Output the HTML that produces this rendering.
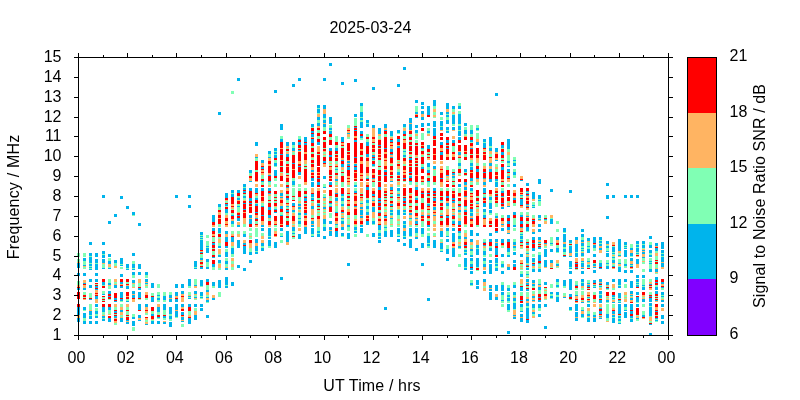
<!DOCTYPE html><html><head><meta charset="utf-8"><style>html,body{margin:0;padding:0;background:#fff;width:800px;height:400px;overflow:hidden}svg{display:block}text{font-family:"Liberation Sans",Arial,sans-serif;font-size:16px;fill:#000}</style></head><body><svg width="800" height="400" viewBox="0 0 800 400" shape-rendering="crispEdges"><rect width="800" height="400" fill="#fff"/><g><path fill="#80ffb4" d="M77 253h3v4h-3zM77 259h3v3h-3zM77 281h3v4h-3zM83 253h3v4h-3zM83 261h3v4h-3zM83 267h3v2h-3zM83 292h3v3h-3zM83 297h3v1h-3zM83 310h3v1h-3zM83 318h3v3h-3zM89 256h3v1h-3zM89 263h3v1h-3zM89 266h3v1h-3zM89 268h3v1h-3zM89 293h3v5h-3zM89 304h3v6h-3zM89 315h3v1h-3zM95 263h3v1h-3zM95 284h3v1h-3zM95 308h3v3h-3zM95 314h3v2h-3zM102 254h3v1h-3zM102 264h3v4h-3zM102 285h3v1h-3zM102 291h3v3h-3zM102 297h3v2h-3zM102 300h3v1h-3zM102 312h3v3h-3zM102 318h3v1h-3zM108 258h3v3h-3zM108 267h3v1h-3zM108 279h3v4h-3zM108 286h3v3h-3zM108 299h3v1h-3zM108 310h3v4h-3zM114 263h3v3h-3zM114 282h3v2h-3zM114 307h3v3h-3zM114 314h3v1h-3zM114 323h3v2h-3zM120 264h3v1h-3zM120 267h3v2h-3zM120 301h3v1h-3zM120 304h3v3h-3zM120 315h3v2h-3zM126 268h3v1h-3zM126 282h3v2h-3zM126 299h3v2h-3zM126 307h3v3h-3zM126 311h3v4h-3zM126 316h3v1h-3zM132 261h3v3h-3zM132 268h3v1h-3zM132 275h3v3h-3zM132 284h3v1h-3zM132 285h3v2h-3zM132 314h3v3h-3zM132 327h3v4h-3zM132 215h3v1h-3zM138 283h3v2h-3zM138 285h3v2h-3zM138 299h3v1h-3zM145 275h3v3h-3zM145 284h3v1h-3zM145 286h3v2h-3zM145 298h3v2h-3zM145 313h3v2h-3zM145 320h3v2h-3zM151 293h3v3h-3zM151 311h3v3h-3zM151 320h3v1h-3zM157 284h3v1h-3zM157 285h3v3h-3zM157 292h3v3h-3zM157 296h3v2h-3zM157 300h3v2h-3zM157 312h3v3h-3zM157 318h3v1h-3zM163 292h3v4h-3zM163 300h3v2h-3zM163 310h3v5h-3zM163 318h3v2h-3zM169 292h3v3h-3zM169 314h3v2h-3zM169 319h3v2h-3zM175 317h3v1h-3zM181 324h3v3h-3zM188 286h3v2h-3zM188 292h3v3h-3zM188 297h3v1h-3zM188 311h3v4h-3zM194 279h3v6h-3zM194 295h3v2h-3zM194 299h3v1h-3zM194 308h3v3h-3zM194 267h3v1h-3zM200 286h3v1h-3zM200 296h3v1h-3zM200 298h3v1h-3zM200 235h3v1h-3zM200 237h3v1h-3zM200 239h3v1h-3zM200 254h3v4h-3zM200 261h3v1h-3zM200 265h3v1h-3zM206 285h3v5h-3zM206 295h3v2h-3zM206 302h3v1h-3zM206 235h3v3h-3zM206 241h3v5h-3zM206 247h3v1h-3zM206 262h3v5h-3zM212 286h3v2h-3zM212 237h3v5h-3zM212 248h3v1h-3zM212 251h3v4h-3zM212 267h3v3h-3zM218 292h3v5h-3zM218 207h3v3h-3zM218 224h3v3h-3zM218 233h3v1h-3zM218 237h3v2h-3zM218 243h3v3h-3zM218 254h3v1h-3zM218 263h3v1h-3zM218 268h3v2h-3zM225 285h3v1h-3zM225 201h3v2h-3zM225 206h3v1h-3zM225 213h3v2h-3zM225 249h3v3h-3zM225 258h3v3h-3zM225 264h3v3h-3zM231 91h3v3h-3zM231 193h3v1h-3zM231 209h3v1h-3zM231 213h3v2h-3zM231 224h3v3h-3zM231 231h3v3h-3zM231 246h3v2h-3zM231 254h3v3h-3zM231 261h3v3h-3zM231 267h3v3h-3zM237 196h3v2h-3zM237 204h3v2h-3zM237 207h3v5h-3zM237 231h3v3h-3zM243 187h3v1h-3zM243 194h3v1h-3zM243 195h3v1h-3zM243 198h3v2h-3zM243 224h3v3h-3zM243 231h3v3h-3zM249 173h3v3h-3zM249 228h3v3h-3zM249 233h3v3h-3zM249 237h3v2h-3zM249 248h3v4h-3zM255 158h3v3h-3zM255 170h3v2h-3zM255 196h3v2h-3zM255 203h3v1h-3zM255 221h3v3h-3zM255 228h3v9h-3zM255 251h3v1h-3zM261 175h3v4h-3zM261 182h3v3h-3zM261 203h3v3h-3zM261 233h3v3h-3zM261 246h3v2h-3zM268 154h3v3h-3zM268 182h3v3h-3zM268 196h3v4h-3zM268 201h3v2h-3zM268 219h3v1h-3zM268 220h3v1h-3zM268 236h3v1h-3zM268 246h3v2h-3zM274 151h3v1h-3zM274 154h3v1h-3zM274 160h3v3h-3zM274 166h3v1h-3zM274 178h3v3h-3zM274 184h3v3h-3zM274 194h3v3h-3zM274 198h3v2h-3zM274 201h3v2h-3zM274 207h3v2h-3zM274 225h3v2h-3zM274 228h3v3h-3zM280 136h3v3h-3zM280 166h3v1h-3zM280 172h3v1h-3zM280 212h3v3h-3zM280 233h3v3h-3zM280 240h3v3h-3zM286 148h3v1h-3zM286 151h3v1h-3zM286 161h3v3h-3zM286 173h3v2h-3zM286 182h3v3h-3zM286 194h3v2h-3zM286 200h3v3h-3zM286 207h3v2h-3zM286 215h3v1h-3zM286 218h3v3h-3zM292 145h3v3h-3zM292 152h3v3h-3zM292 178h3v3h-3zM292 185h3v2h-3zM292 188h3v8h-3zM292 197h3v3h-3zM292 212h3v1h-3zM292 224h3v1h-3zM292 231h3v2h-3zM292 234h3v2h-3zM292 237h3v2h-3zM298 136h3v3h-3zM298 148h3v1h-3zM298 184h3v3h-3zM298 188h3v3h-3zM298 197h3v3h-3zM298 200h3v1h-3zM298 203h3v1h-3zM298 209h3v1h-3zM298 212h3v1h-3zM298 215h3v3h-3zM298 219h3v2h-3zM298 224h3v1h-3zM298 225h3v2h-3zM304 164h3v2h-3zM304 167h3v2h-3zM304 188h3v3h-3zM304 194h3v2h-3zM304 203h3v1h-3zM311 127h3v1h-3zM311 146h3v2h-3zM311 152h3v2h-3zM311 158h3v2h-3zM311 163h3v1h-3zM311 197h3v1h-3zM311 201h3v2h-3zM311 215h3v3h-3zM311 234h3v2h-3zM317 108h3v1h-3zM317 113h3v1h-3zM317 120h3v3h-3zM317 130h3v3h-3zM317 136h3v3h-3zM317 154h3v1h-3zM317 198h3v2h-3zM317 203h3v1h-3zM317 207h3v2h-3zM317 210h3v2h-3zM317 213h3v3h-3zM317 227h3v4h-3zM317 233h3v1h-3zM323 118h3v2h-3zM323 127h3v4h-3zM323 140h3v2h-3zM323 148h3v1h-3zM323 152h3v2h-3zM323 155h3v2h-3zM323 184h3v3h-3zM323 194h3v3h-3zM323 201h3v2h-3zM323 204h3v2h-3zM323 210h3v2h-3zM323 213h3v2h-3zM323 224h3v1h-3zM323 225h3v2h-3zM329 125h3v3h-3zM329 130h3v1h-3zM329 137h3v3h-3zM329 161h3v2h-3zM329 164h3v2h-3zM329 175h3v1h-3zM329 196h3v1h-3zM329 198h3v2h-3zM329 200h3v1h-3zM329 204h3v2h-3zM329 213h3v5h-3zM335 136h3v6h-3zM335 145h3v3h-3zM335 154h3v1h-3zM335 161h3v3h-3zM335 167h3v2h-3zM335 170h3v3h-3zM335 175h3v1h-3zM335 182h3v3h-3zM335 197h3v1h-3zM335 203h3v1h-3zM335 206h3v6h-3zM335 225h3v3h-3zM341 146h3v2h-3zM341 170h3v2h-3zM341 173h3v2h-3zM341 175h3v1h-3zM341 182h3v5h-3zM341 196h3v2h-3zM341 201h3v3h-3zM341 206h3v1h-3zM341 215h3v1h-3zM341 219h3v2h-3zM341 236h3v1h-3zM347 125h3v3h-3zM347 137h3v2h-3zM347 151h3v1h-3zM347 185h3v2h-3zM347 194h3v2h-3zM347 198h3v2h-3zM347 206h3v3h-3zM347 215h3v3h-3zM347 219h3v5h-3zM347 227h3v4h-3zM354 118h3v8h-3zM354 182h3v3h-3zM354 188h3v3h-3zM354 215h3v4h-3zM354 225h3v2h-3zM354 230h3v1h-3zM354 234h3v3h-3zM360 106h3v6h-3zM360 117h3v1h-3zM360 120h3v2h-3zM360 138h3v2h-3zM360 155h3v2h-3zM360 193h3v1h-3zM360 196h3v1h-3zM360 201h3v2h-3zM366 123h3v1h-3zM366 134h3v3h-3zM366 139h3v3h-3zM366 176h3v2h-3zM366 198h3v2h-3zM366 203h3v3h-3zM366 209h3v3h-3zM366 234h3v3h-3zM372 143h3v2h-3zM372 152h3v2h-3zM372 160h3v1h-3zM372 166h3v1h-3zM372 182h3v5h-3zM372 198h3v2h-3zM372 218h3v3h-3zM372 224h3v1h-3zM378 136h3v3h-3zM378 148h3v1h-3zM378 160h3v6h-3zM378 167h3v3h-3zM378 175h3v1h-3zM378 181h3v1h-3zM378 210h3v2h-3zM378 216h3v2h-3zM378 230h3v3h-3zM378 236h3v1h-3zM384 134h3v3h-3zM384 193h3v1h-3zM384 196h3v1h-3zM384 198h3v2h-3zM384 203h3v1h-3zM384 207h3v2h-3zM384 210h3v2h-3zM384 225h3v2h-3zM384 228h3v3h-3zM390 136h3v1h-3zM390 164h3v2h-3zM390 175h3v1h-3zM390 178h3v1h-3zM390 194h3v2h-3zM390 198h3v2h-3zM390 200h3v1h-3zM390 207h3v2h-3zM390 212h3v1h-3zM390 215h3v1h-3zM390 219h3v5h-3zM390 225h3v2h-3zM397 133h3v1h-3zM397 160h3v1h-3zM397 163h3v1h-3zM397 169h3v3h-3zM397 178h3v1h-3zM397 181h3v1h-3zM397 185h3v2h-3zM397 191h3v2h-3zM397 196h3v1h-3zM397 200h3v1h-3zM397 209h3v1h-3zM397 215h3v4h-3zM397 221h3v3h-3zM397 225h3v2h-3zM397 234h3v2h-3zM403 127h3v1h-3zM403 136h3v3h-3zM403 149h3v1h-3zM403 150h3v1h-3zM403 152h3v3h-3zM403 157h3v1h-3zM403 164h3v2h-3zM403 181h3v1h-3zM403 196h3v1h-3zM403 206h3v3h-3zM403 212h3v1h-3zM403 224h3v1h-3zM403 236h3v1h-3zM409 134h3v3h-3zM409 140h3v2h-3zM409 145h3v1h-3zM409 151h3v1h-3zM409 155h3v2h-3zM409 166h3v1h-3zM409 175h3v1h-3zM409 182h3v3h-3zM409 193h3v1h-3zM409 203h3v3h-3zM409 209h3v1h-3zM409 219h3v2h-3zM409 225h3v2h-3zM409 236h3v1h-3zM415 106h3v6h-3zM415 133h3v1h-3zM415 136h3v3h-3zM415 140h3v3h-3zM415 145h3v1h-3zM415 157h3v1h-3zM415 163h3v1h-3zM415 166h3v1h-3zM415 182h3v3h-3zM415 196h3v2h-3zM415 203h3v3h-3zM415 210h3v3h-3zM415 225h3v2h-3zM415 233h3v3h-3zM421 133h3v7h-3zM421 149h3v1h-3zM421 150h3v1h-3zM421 155h3v2h-3zM421 164h3v3h-3zM421 182h3v3h-3zM421 198h3v2h-3zM421 200h3v3h-3zM421 210h3v2h-3zM421 221h3v4h-3zM421 225h3v2h-3zM421 234h3v3h-3zM427 128h3v3h-3zM427 133h3v1h-3zM427 152h3v2h-3zM427 155h3v2h-3zM427 167h3v3h-3zM427 176h3v2h-3zM427 182h3v5h-3zM427 196h3v2h-3zM427 203h3v1h-3zM427 210h3v3h-3zM427 219h3v2h-3zM427 228h3v3h-3zM427 233h3v3h-3zM427 243h3v1h-3zM427 246h3v2h-3zM433 106h3v3h-3zM433 112h3v3h-3zM433 117h3v1h-3zM433 139h3v1h-3zM433 170h3v5h-3zM433 175h3v1h-3zM433 182h3v3h-3zM433 196h3v1h-3zM433 221h3v3h-3zM433 233h3v3h-3zM440 117h3v3h-3zM440 126h3v1h-3zM440 188h3v3h-3zM440 196h3v1h-3zM440 201h3v2h-3zM440 206h3v1h-3zM440 210h3v3h-3zM440 218h3v3h-3zM440 239h3v3h-3zM440 249h3v2h-3zM446 114h3v1h-3zM446 117h3v3h-3zM446 130h3v1h-3zM446 145h3v1h-3zM446 166h3v4h-3zM446 178h3v1h-3zM446 188h3v3h-3zM446 206h3v3h-3zM446 231h3v5h-3zM446 245h3v4h-3zM452 109h3v3h-3zM452 114h3v1h-3zM452 124h3v1h-3zM452 125h3v1h-3zM452 146h3v4h-3zM452 150h3v2h-3zM452 169h3v3h-3zM452 178h3v3h-3zM452 182h3v3h-3zM452 188h3v3h-3zM452 207h3v2h-3zM452 212h3v1h-3zM452 219h3v2h-3zM458 103h3v3h-3zM458 111h3v3h-3zM458 124h3v1h-3zM458 125h3v1h-3zM458 130h3v1h-3zM458 158h3v5h-3zM458 166h3v3h-3zM458 173h3v2h-3zM458 188h3v5h-3zM458 201h3v3h-3zM458 212h3v1h-3zM458 215h3v3h-3zM458 233h3v3h-3zM458 239h3v3h-3zM458 244h3v1h-3zM458 248h3v1h-3zM458 254h3v3h-3zM458 264h3v3h-3zM464 127h3v3h-3zM464 134h3v2h-3zM464 154h3v3h-3zM464 172h3v1h-3zM464 175h3v1h-3zM464 207h3v2h-3zM464 215h3v1h-3zM464 225h3v2h-3zM464 230h3v3h-3zM464 248h3v2h-3zM464 252h3v1h-3zM464 267h3v1h-3zM470 125h3v5h-3zM470 134h3v3h-3zM470 142h3v1h-3zM470 154h3v1h-3zM470 160h3v3h-3zM470 166h3v1h-3zM470 182h3v3h-3zM470 191h3v2h-3zM470 203h3v1h-3zM470 212h3v1h-3zM470 245h3v3h-3zM470 251h3v4h-3zM470 261h3v3h-3zM470 280h3v3h-3zM470 285h3v1h-3zM476 125h3v3h-3zM476 130h3v1h-3zM476 133h3v6h-3zM476 163h3v3h-3zM476 182h3v3h-3zM476 196h3v2h-3zM476 201h3v2h-3zM476 207h3v2h-3zM476 212h3v1h-3zM476 225h3v2h-3zM476 248h3v1h-3zM476 267h3v1h-3zM476 270h3v1h-3zM483 142h3v1h-3zM483 151h3v1h-3zM483 163h3v3h-3zM483 194h3v3h-3zM483 212h3v3h-3zM483 239h3v3h-3zM483 248h3v2h-3zM483 250h3v1h-3zM483 255h3v2h-3zM483 261h3v3h-3zM483 286h3v2h-3zM489 146h3v2h-3zM489 154h3v3h-3zM489 196h3v1h-3zM489 200h3v3h-3zM489 213h3v2h-3zM489 224h3v1h-3zM489 246h3v2h-3zM489 254h3v3h-3zM495 164h3v3h-3zM495 169h3v3h-3zM495 181h3v1h-3zM495 193h3v1h-3zM495 203h3v4h-3zM495 213h3v3h-3zM495 263h3v1h-3zM495 266h3v2h-3zM501 148h3v1h-3zM501 158h3v2h-3zM501 161h3v2h-3zM501 182h3v3h-3zM501 188h3v3h-3zM501 215h3v3h-3zM501 246h3v2h-3zM501 261h3v3h-3zM501 267h3v1h-3zM501 282h3v3h-3zM501 295h3v5h-3zM501 301h3v2h-3zM501 304h3v3h-3zM507 149h3v1h-3zM507 150h3v2h-3zM507 155h3v6h-3zM507 163h3v3h-3zM507 173h3v2h-3zM507 184h3v3h-3zM507 201h3v2h-3zM507 252h3v3h-3zM507 285h3v3h-3zM507 292h3v3h-3zM507 297h3v1h-3zM507 301h3v2h-3zM507 310h3v2h-3zM513 157h3v3h-3zM513 161h3v2h-3zM513 169h3v3h-3zM513 175h3v3h-3zM513 203h3v3h-3zM513 218h3v7h-3zM513 228h3v3h-3zM513 239h3v3h-3zM513 248h3v2h-3zM513 250h3v1h-3zM513 282h3v3h-3zM513 295h3v2h-3zM513 301h3v2h-3zM513 309h3v1h-3zM520 196h3v2h-3zM520 212h3v3h-3zM520 232h3v2h-3zM520 235h3v1h-3zM520 239h3v1h-3zM520 243h3v2h-3zM520 248h3v1h-3zM520 264h3v2h-3zM520 267h3v1h-3zM520 269h3v1h-3zM520 271h3v3h-3zM520 284h3v2h-3zM520 292h3v4h-3zM520 307h3v4h-3zM526 192h3v1h-3zM526 212h3v3h-3zM526 221h3v3h-3zM526 231h3v1h-3zM526 239h3v3h-3zM526 248h3v1h-3zM526 251h3v2h-3zM526 255h3v1h-3zM526 263h3v1h-3zM526 267h3v1h-3zM526 271h3v3h-3zM526 275h3v2h-3zM526 286h3v2h-3zM526 292h3v5h-3zM526 306h3v2h-3zM532 202h3v3h-3zM532 206h3v1h-3zM532 215h3v3h-3zM532 254h3v3h-3zM532 262h3v1h-3zM532 268h3v1h-3zM532 286h3v2h-3zM532 291h3v3h-3zM532 308h3v2h-3zM532 314h3v2h-3zM538 199h3v1h-3zM538 201h3v5h-3zM538 218h3v1h-3zM538 243h3v1h-3zM538 245h3v1h-3zM538 252h3v3h-3zM538 264h3v3h-3zM538 268h3v1h-3zM538 279h3v5h-3zM538 290h3v4h-3zM538 308h3v3h-3zM544 215h3v3h-3zM544 220h3v1h-3zM544 246h3v2h-3zM544 288h3v2h-3zM544 291h3v3h-3zM544 299h3v1h-3zM550 218h3v1h-3zM550 237h3v6h-3zM550 244h3v2h-3zM550 267h3v1h-3zM550 284h3v4h-3zM550 294h3v2h-3zM550 298h3v1h-3zM556 221h3v3h-3zM556 229h3v3h-3zM556 245h3v3h-3zM556 252h3v1h-3zM556 263h3v1h-3zM556 267h3v1h-3zM556 282h3v3h-3zM556 287h3v1h-3zM556 295h3v2h-3zM563 232h3v1h-3zM563 247h3v2h-3zM563 252h3v3h-3zM563 286h3v2h-3zM563 293h3v3h-3zM569 243h3v1h-3zM569 245h3v1h-3zM569 267h3v1h-3zM569 299h3v1h-3zM569 310h3v1h-3zM575 252h3v1h-3zM575 269h3v1h-3zM575 281h3v4h-3zM575 288h3v2h-3zM575 291h3v4h-3zM581 237h3v3h-3zM581 246h3v2h-3zM581 249h3v1h-3zM581 251h3v1h-3zM581 256h3v1h-3zM581 262h3v1h-3zM581 282h3v1h-3zM581 288h3v2h-3zM581 291h3v4h-3zM581 300h3v1h-3zM581 307h3v3h-3zM581 317h3v1h-3zM587 242h3v4h-3zM587 247h3v2h-3zM587 258h3v3h-3zM587 264h3v1h-3zM587 267h3v1h-3zM587 280h3v3h-3zM587 288h3v1h-3zM587 298h3v1h-3zM587 302h3v1h-3zM587 311h3v3h-3zM587 317h3v1h-3zM593 248h3v2h-3zM593 250h3v1h-3zM593 263h3v1h-3zM593 286h3v1h-3zM593 292h3v3h-3zM593 299h3v1h-3zM593 300h3v2h-3zM593 312h3v3h-3zM599 240h3v1h-3zM599 243h3v1h-3zM599 260h3v3h-3zM599 285h3v1h-3zM599 287h3v1h-3zM599 294h3v1h-3zM599 298h3v1h-3zM599 307h3v1h-3zM606 245h3v1h-3zM606 248h3v2h-3zM606 250h3v1h-3zM606 260h3v3h-3zM606 264h3v2h-3zM606 286h3v1h-3zM606 289h3v1h-3zM606 296h3v1h-3zM606 298h3v1h-3zM606 302h3v1h-3zM606 304h3v10h-3zM606 318h3v3h-3zM612 246h3v1h-3zM612 252h3v1h-3zM612 254h3v1h-3zM612 256h3v1h-3zM612 258h3v2h-3zM612 264h3v2h-3zM612 288h3v2h-3zM612 297h3v1h-3zM612 299h3v1h-3zM612 304h3v4h-3zM612 317h3v1h-3zM618 253h3v2h-3zM618 259h3v4h-3zM618 266h3v1h-3zM618 285h3v1h-3zM618 298h3v1h-3zM618 301h3v1h-3zM618 315h3v1h-3zM618 318h3v1h-3zM618 321h3v2h-3zM624 245h3v1h-3zM624 247h3v1h-3zM624 259h3v5h-3zM624 266h3v2h-3zM624 284h3v4h-3zM624 295h3v2h-3zM624 298h3v1h-3zM624 307h3v3h-3zM630 244h3v4h-3zM630 256h3v1h-3zM630 265h3v1h-3zM630 296h3v1h-3zM630 318h3v1h-3zM636 244h3v1h-3zM636 247h3v1h-3zM636 252h3v1h-3zM636 254h3v1h-3zM636 282h3v1h-3zM636 284h3v1h-3zM636 302h3v1h-3zM636 315h3v1h-3zM636 319h3v2h-3zM642 244h3v1h-3zM642 248h3v1h-3zM642 258h3v3h-3zM642 262h3v2h-3zM642 269h3v3h-3zM642 279h3v6h-3zM642 286h3v1h-3zM642 297h3v1h-3zM642 304h3v3h-3zM642 311h3v4h-3zM649 242h3v3h-3zM649 253h3v2h-3zM649 258h3v3h-3zM649 262h3v1h-3zM649 264h3v5h-3zM649 279h3v3h-3zM649 286h3v1h-3zM649 292h3v3h-3zM649 306h3v1h-3zM649 316h3v1h-3zM649 321h3v2h-3zM655 251h3v2h-3zM655 256h3v4h-3zM655 261h3v1h-3zM655 264h3v4h-3zM655 273h3v1h-3zM655 285h3v2h-3zM655 296h3v1h-3zM655 298h3v1h-3zM655 315h3v1h-3zM655 319h3v1h-3zM655 321h3v1h-3zM661 253h3v1h-3zM661 256h3v1h-3zM661 288h3v2h-3zM661 295h3v1h-3zM661 297h3v2h-3z"/>
<path fill="#ffb462" d="M77 262h3v1h-3zM77 285h3v2h-3zM77 315h3v3h-3zM83 266h3v1h-3zM83 280h3v3h-3zM83 285h3v3h-3zM83 299h3v1h-3zM89 310h3v1h-3zM95 290h3v3h-3zM95 294h3v1h-3zM95 299h3v4h-3zM102 263h3v1h-3zM102 315h3v1h-3zM108 264h3v3h-3zM108 285h3v1h-3zM108 314h3v1h-3zM114 266h3v2h-3zM114 279h3v3h-3zM114 284h3v1h-3zM114 304h3v3h-3zM114 318h3v1h-3zM114 321h3v2h-3zM120 284h3v1h-3zM120 307h3v3h-3zM120 312h3v3h-3zM120 317h3v1h-3zM126 285h3v1h-3zM126 296h3v1h-3zM126 304h3v3h-3zM126 321h3v1h-3zM132 283h3v1h-3zM132 287h3v1h-3zM132 294h3v1h-3zM132 299h3v3h-3zM138 279h3v4h-3zM138 318h3v2h-3zM145 282h3v1h-3zM145 285h3v1h-3zM145 292h3v3h-3zM145 307h3v3h-3zM145 311h3v2h-3zM145 318h3v2h-3zM145 322h3v2h-3zM151 319h3v1h-3zM157 304h3v3h-3zM163 321h3v1h-3zM169 298h3v1h-3zM175 296h3v2h-3zM175 310h3v1h-3zM181 294h3v2h-3zM181 297h3v5h-3zM181 307h3v2h-3zM181 316h3v1h-3zM181 320h3v1h-3zM188 295h3v1h-3zM188 315h3v2h-3zM194 286h3v2h-3zM194 294h3v1h-3zM194 298h3v1h-3zM194 311h3v4h-3zM200 251h3v1h-3zM200 260h3v1h-3zM200 264h3v1h-3zM206 292h3v3h-3zM206 298h3v2h-3zM212 295h3v3h-3zM212 225h3v2h-3zM212 234h3v2h-3zM218 212h3v3h-3zM218 218h3v1h-3zM218 239h3v4h-3zM218 249h3v5h-3zM218 264h3v4h-3zM225 200h3v1h-3zM225 215h3v3h-3zM225 221h3v3h-3zM225 225h3v2h-3zM225 234h3v3h-3zM225 267h3v1h-3zM231 204h3v2h-3zM231 207h3v2h-3zM231 219h3v1h-3zM231 220h3v1h-3zM231 234h3v2h-3zM231 242h3v3h-3zM231 245h3v1h-3zM231 258h3v3h-3zM231 264h3v3h-3zM237 200h3v1h-3zM237 212h3v1h-3zM237 222h3v3h-3zM237 234h3v3h-3zM243 200h3v1h-3zM243 212h3v1h-3zM243 218h3v2h-3zM243 220h3v4h-3zM243 240h3v3h-3zM249 178h3v3h-3zM249 206h3v1h-3zM249 218h3v1h-3zM249 236h3v1h-3zM249 243h3v2h-3zM249 245h3v3h-3zM255 154h3v3h-3zM255 181h3v1h-3zM255 184h3v3h-3zM255 194h3v1h-3zM255 195h3v1h-3zM255 215h3v3h-3zM255 225h3v2h-3zM255 243h3v2h-3zM255 245h3v1h-3zM261 163h3v3h-3zM261 170h3v2h-3zM261 173h3v2h-3zM261 196h3v1h-3zM261 201h3v2h-3zM261 221h3v4h-3zM261 236h3v3h-3zM261 240h3v3h-3zM268 158h3v3h-3zM268 164h3v2h-3zM268 173h3v2h-3zM268 185h3v2h-3zM268 194h3v1h-3zM268 195h3v1h-3zM268 218h3v1h-3zM268 225h3v2h-3zM274 206h3v1h-3zM274 221h3v3h-3zM274 231h3v3h-3zM274 236h3v1h-3zM280 148h3v1h-3zM280 160h3v1h-3zM280 173h3v2h-3zM280 175h3v1h-3zM280 184h3v3h-3zM280 190h3v3h-3zM280 196h3v1h-3zM280 198h3v2h-3zM280 203h3v3h-3zM280 224h3v1h-3zM286 146h3v2h-3zM286 152h3v2h-3zM286 166h3v1h-3zM286 176h3v2h-3zM286 188h3v3h-3zM286 204h3v2h-3zM286 213h3v2h-3zM286 242h3v3h-3zM292 151h3v1h-3zM292 169h3v1h-3zM292 207h3v3h-3zM292 213h3v3h-3zM292 221h3v3h-3zM292 225h3v2h-3zM298 151h3v1h-3zM298 161h3v3h-3zM298 176h3v3h-3zM298 201h3v2h-3zM298 206h3v1h-3zM298 210h3v2h-3zM298 228h3v3h-3zM304 152h3v2h-3zM304 160h3v4h-3zM304 182h3v3h-3zM304 206h3v1h-3zM304 209h3v1h-3zM304 215h3v1h-3zM304 218h3v3h-3zM304 225h3v2h-3zM311 137h3v1h-3zM311 157h3v1h-3zM311 167h3v3h-3zM311 172h3v1h-3zM311 175h3v1h-3zM311 188h3v5h-3zM311 203h3v3h-3zM311 209h3v6h-3zM311 219h3v2h-3zM311 224h3v1h-3zM317 114h3v3h-3zM317 126h3v2h-3zM317 146h3v4h-3zM317 150h3v2h-3zM317 172h3v1h-3zM317 175h3v1h-3zM317 188h3v3h-3zM317 212h3v1h-3zM317 219h3v6h-3zM317 225h3v2h-3zM323 109h3v5h-3zM323 123h3v1h-3zM323 151h3v1h-3zM323 154h3v1h-3zM323 164h3v3h-3zM323 190h3v3h-3zM323 198h3v2h-3zM323 200h3v1h-3zM323 203h3v1h-3zM323 206h3v1h-3zM323 209h3v1h-3zM323 212h3v1h-3zM323 215h3v4h-3zM329 163h3v1h-3zM329 167h3v3h-3zM329 178h3v1h-3zM329 197h3v1h-3zM329 230h3v1h-3zM335 157h3v1h-3zM335 164h3v2h-3zM335 176h3v3h-3zM335 181h3v1h-3zM335 185h3v2h-3zM335 188h3v5h-3zM335 201h3v2h-3zM335 204h3v2h-3zM335 216h3v2h-3zM335 221h3v3h-3zM341 143h3v2h-3zM341 158h3v2h-3zM341 167h3v3h-3zM341 207h3v3h-3zM341 213h3v2h-3zM341 216h3v2h-3zM341 224h3v1h-3zM341 225h3v2h-3zM347 128h3v2h-3zM347 131h3v2h-3zM347 134h3v3h-3zM347 154h3v1h-3zM347 160h3v1h-3zM347 163h3v1h-3zM347 176h3v2h-3zM347 179h3v2h-3zM347 182h3v3h-3zM347 188h3v5h-3zM347 201h3v3h-3zM347 209h3v3h-3zM347 218h3v1h-3zM347 224h3v1h-3zM354 136h3v2h-3zM354 163h3v1h-3zM354 172h3v1h-3zM354 178h3v1h-3zM354 194h3v2h-3zM354 201h3v3h-3zM354 207h3v2h-3zM354 219h3v2h-3zM354 224h3v1h-3zM360 149h3v1h-3zM360 150h3v1h-3zM360 161h3v3h-3zM360 173h3v2h-3zM360 176h3v3h-3zM360 182h3v5h-3zM360 188h3v5h-3zM360 198h3v2h-3zM360 200h3v1h-3zM360 204h3v3h-3zM360 209h3v1h-3zM360 215h3v1h-3zM360 218h3v3h-3zM360 224h3v1h-3zM366 157h3v1h-3zM366 161h3v6h-3zM366 173h3v2h-3zM366 175h3v1h-3zM366 182h3v3h-3zM366 215h3v1h-3zM366 218h3v1h-3zM372 128h3v9h-3zM372 139h3v3h-3zM372 148h3v1h-3zM372 154h3v1h-3zM372 173h3v2h-3zM372 179h3v2h-3zM372 188h3v3h-3zM372 197h3v1h-3zM372 201h3v2h-3zM372 206h3v1h-3zM372 212h3v6h-3zM378 134h3v2h-3zM378 139h3v1h-3zM378 154h3v1h-3zM378 157h3v1h-3zM378 218h3v1h-3zM378 221h3v3h-3zM384 128h3v2h-3zM384 152h3v2h-3zM384 158h3v2h-3zM384 161h3v5h-3zM384 169h3v1h-3zM384 184h3v3h-3zM384 188h3v3h-3zM384 201h3v2h-3zM384 206h3v1h-3zM384 209h3v1h-3zM384 212h3v3h-3zM384 218h3v1h-3zM384 221h3v4h-3zM390 137h3v2h-3zM390 143h3v2h-3zM390 146h3v3h-3zM390 155h3v2h-3zM390 163h3v1h-3zM390 170h3v2h-3zM390 179h3v2h-3zM390 184h3v3h-3zM390 191h3v2h-3zM390 203h3v1h-3zM390 209h3v1h-3zM390 216h3v2h-3zM390 224h3v1h-3zM397 145h3v1h-3zM397 161h3v2h-3zM397 166h3v3h-3zM397 175h3v1h-3zM397 182h3v3h-3zM397 193h3v1h-3zM397 198h3v2h-3zM397 201h3v2h-3zM397 206h3v3h-3zM397 219h3v2h-3zM397 224h3v1h-3zM403 128h3v3h-3zM403 140h3v3h-3zM403 161h3v3h-3zM403 170h3v2h-3zM403 173h3v2h-3zM403 184h3v3h-3zM403 209h3v1h-3zM403 216h3v3h-3zM403 228h3v3h-3zM409 123h3v1h-3zM409 130h3v1h-3zM409 154h3v1h-3zM409 163h3v1h-3zM409 194h3v2h-3zM409 198h3v2h-3zM409 207h3v2h-3zM409 212h3v1h-3zM409 215h3v3h-3zM409 221h3v4h-3zM415 114h3v1h-3zM415 134h3v2h-3zM415 155h3v2h-3zM415 160h3v1h-3zM415 175h3v1h-3zM415 185h3v2h-3zM415 216h3v2h-3zM415 219h3v2h-3zM415 236h3v1h-3zM421 114h3v3h-3zM421 145h3v1h-3zM421 154h3v1h-3zM421 179h3v2h-3zM421 188h3v3h-3zM421 209h3v1h-3zM421 212h3v3h-3zM421 218h3v1h-3zM427 134h3v2h-3zM427 158h3v2h-3zM427 175h3v1h-3zM427 188h3v3h-3zM427 207h3v2h-3zM427 213h3v2h-3zM427 218h3v1h-3zM433 109h3v3h-3zM433 115h3v2h-3zM433 154h3v1h-3zM433 161h3v3h-3zM433 169h3v1h-3zM433 203h3v1h-3zM433 206h3v1h-3zM433 210h3v2h-3zM433 213h3v2h-3zM433 216h3v5h-3zM433 224h3v1h-3zM433 225h3v2h-3zM433 228h3v3h-3zM433 236h3v1h-3zM440 130h3v1h-3zM440 148h3v2h-3zM440 150h3v1h-3zM440 161h3v3h-3zM440 166h3v3h-3zM440 170h3v3h-3zM440 182h3v5h-3zM440 213h3v2h-3zM440 225h3v2h-3zM440 228h3v3h-3zM440 242h3v1h-3zM446 109h3v3h-3zM446 154h3v3h-3zM446 176h3v2h-3zM446 179h3v2h-3zM446 201h3v2h-3zM446 209h3v6h-3zM446 225h3v2h-3zM452 112h3v2h-3zM452 130h3v1h-3zM452 136h3v3h-3zM452 154h3v3h-3zM452 175h3v1h-3zM452 193h3v1h-3zM452 203h3v4h-3zM452 210h3v2h-3zM452 213h3v2h-3zM452 225h3v2h-3zM452 242h3v2h-3zM452 246h3v2h-3zM458 151h3v1h-3zM458 155h3v2h-3zM458 175h3v1h-3zM458 196h3v1h-3zM458 207h3v3h-3zM458 213h3v2h-3zM458 218h3v3h-3zM458 242h3v2h-3zM458 245h3v1h-3zM464 136h3v1h-3zM464 151h3v1h-3zM464 185h3v2h-3zM464 190h3v1h-3zM464 197h3v3h-3zM464 209h3v1h-3zM464 224h3v1h-3zM464 233h3v4h-3zM464 239h3v3h-3zM470 146h3v2h-3zM470 158h3v2h-3zM470 172h3v1h-3zM470 181h3v1h-3zM470 194h3v2h-3zM470 197h3v3h-3zM470 206h3v1h-3zM470 216h3v2h-3zM470 221h3v3h-3zM470 242h3v3h-3zM470 248h3v1h-3zM476 139h3v3h-3zM476 154h3v1h-3zM476 158h3v5h-3zM476 179h3v3h-3zM476 204h3v2h-3zM476 209h3v3h-3zM476 213h3v3h-3zM476 240h3v5h-3zM483 149h3v1h-3zM483 150h3v1h-3zM483 154h3v1h-3zM483 166h3v3h-3zM483 179h3v3h-3zM483 185h3v2h-3zM483 200h3v1h-3zM483 219h3v6h-3zM483 246h3v2h-3zM483 267h3v3h-3zM483 282h3v4h-3zM483 288h3v3h-3zM489 151h3v3h-3zM489 158h3v5h-3zM489 166h3v3h-3zM489 194h3v2h-3zM489 218h3v3h-3zM489 288h3v1h-3zM495 152h3v2h-3zM495 158h3v2h-3zM495 167h3v2h-3zM495 175h3v1h-3zM495 188h3v3h-3zM495 200h3v1h-3zM495 218h3v1h-3zM495 242h3v1h-3zM495 294h3v3h-3zM501 179h3v2h-3zM501 197h3v1h-3zM501 206h3v1h-3zM501 221h3v3h-3zM501 225h3v2h-3zM501 245h3v1h-3zM507 152h3v3h-3zM507 175h3v1h-3zM507 179h3v3h-3zM507 203h3v3h-3zM507 230h3v3h-3zM507 264h3v3h-3zM513 190h3v3h-3zM513 196h3v2h-3zM513 245h3v1h-3zM513 297h3v1h-3zM513 310h3v5h-3zM513 316h3v1h-3zM520 176h3v3h-3zM520 192h3v1h-3zM520 194h3v1h-3zM520 206h3v2h-3zM520 228h3v3h-3zM520 246h3v2h-3zM520 260h3v3h-3zM520 266h3v1h-3zM520 268h3v1h-3zM520 279h3v5h-3zM520 317h3v1h-3zM526 196h3v2h-3zM526 200h3v1h-3zM526 205h3v1h-3zM526 208h3v2h-3zM526 215h3v1h-3zM526 217h3v1h-3zM526 245h3v1h-3zM526 249h3v1h-3zM526 250h3v1h-3zM526 254h3v1h-3zM526 256h3v1h-3zM526 264h3v1h-3zM526 277h3v1h-3zM526 282h3v1h-3zM526 297h3v2h-3zM526 301h3v2h-3zM532 199h3v1h-3zM532 200h3v1h-3zM532 218h3v1h-3zM532 224h3v1h-3zM532 225h3v2h-3zM532 229h3v3h-3zM532 266h3v2h-3zM532 283h3v1h-3zM532 294h3v2h-3zM532 298h3v2h-3zM532 301h3v1h-3zM532 310h3v2h-3zM532 316h3v2h-3zM538 220h3v1h-3zM538 240h3v2h-3zM538 267h3v1h-3zM538 285h3v2h-3zM544 221h3v3h-3zM544 244h3v2h-3zM544 267h3v1h-3zM544 290h3v1h-3zM544 296h3v3h-3zM550 215h3v3h-3zM550 263h3v4h-3zM556 240h3v3h-3zM556 260h3v3h-3zM556 266h3v1h-3zM563 242h3v2h-3zM563 296h3v1h-3zM569 253h3v3h-3zM575 240h3v4h-3zM575 258h3v4h-3zM575 296h3v3h-3zM575 302h3v1h-3zM575 317h3v1h-3zM581 242h3v1h-3zM581 252h3v1h-3zM581 258h3v3h-3zM581 267h3v1h-3zM581 286h3v2h-3zM581 295h3v3h-3zM581 301h3v1h-3zM581 311h3v3h-3zM587 241h3v1h-3zM587 262h3v2h-3zM587 284h3v1h-3zM587 292h3v3h-3zM587 296h3v1h-3zM587 300h3v1h-3zM587 308h3v3h-3zM587 316h3v1h-3zM593 244h3v1h-3zM593 266h3v1h-3zM593 284h3v1h-3zM593 302h3v1h-3zM593 304h3v3h-3zM593 317h3v1h-3zM599 246h3v2h-3zM599 250h3v3h-3zM599 282h3v1h-3zM599 288h3v2h-3zM599 304h3v3h-3zM599 315h3v1h-3zM599 317h3v1h-3zM606 244h3v1h-3zM606 285h3v1h-3zM606 297h3v1h-3zM606 299h3v1h-3zM606 321h3v1h-3zM612 242h3v3h-3zM612 255h3v1h-3zM612 263h3v1h-3zM612 268h3v1h-3zM612 284h3v4h-3zM612 300h3v2h-3zM612 308h3v2h-3zM612 314h3v1h-3zM618 251h3v2h-3zM618 256h3v1h-3zM618 264h3v2h-3zM624 292h3v3h-3zM624 297h3v1h-3zM624 299h3v1h-3zM624 300h3v2h-3zM630 250h3v3h-3zM630 261h3v3h-3zM630 268h3v1h-3zM630 294h3v1h-3zM630 297h3v1h-3zM630 300h3v2h-3zM636 256h3v1h-3zM636 264h3v4h-3zM636 316h3v2h-3zM642 249h3v1h-3zM642 251h3v1h-3zM642 254h3v3h-3zM642 261h3v1h-3zM642 295h3v2h-3zM642 298h3v1h-3zM642 318h3v1h-3zM649 282h3v2h-3zM649 288h3v2h-3zM649 317h3v4h-3zM655 246h3v1h-3zM655 253h3v3h-3zM655 268h3v1h-3zM655 272h3v1h-3zM655 301h3v1h-3zM655 307h3v3h-3zM661 262h3v1h-3zM661 267h3v2h-3zM661 284h3v2h-3zM661 299h3v1h-3zM661 308h3v3h-3z"/>
<path fill="#00b4ec" d="M77 263h3v5h-3zM77 273h3v3h-3zM77 288h3v2h-3zM77 307h3v8h-3zM77 318h3v4h-3zM83 258h3v3h-3zM83 265h3v1h-3zM83 273h3v3h-3zM83 283h3v1h-3zM83 288h3v2h-3zM83 307h3v3h-3zM83 313h3v5h-3zM83 321h3v3h-3zM89 242h3v3h-3zM89 253h3v3h-3zM89 257h3v6h-3zM89 264h3v2h-3zM89 267h3v1h-3zM89 269h3v1h-3zM89 279h3v3h-3zM89 285h3v3h-3zM89 299h3v1h-3zM89 311h3v4h-3zM89 316h3v3h-3zM89 321h3v3h-3zM95 253h3v4h-3zM95 259h3v4h-3zM95 264h3v2h-3zM95 266h3v4h-3zM95 273h3v3h-3zM95 279h3v3h-3zM95 286h3v2h-3zM95 289h3v1h-3zM95 296h3v3h-3zM95 304h3v3h-3zM95 311h3v3h-3zM95 316h3v2h-3zM95 321h3v3h-3zM102 242h3v3h-3zM102 251h3v3h-3zM102 255h3v3h-3zM102 259h3v4h-3zM102 268h3v1h-3zM102 282h3v3h-3zM102 294h3v1h-3zM102 307h3v5h-3zM102 316h3v2h-3zM102 319h3v2h-3zM102 195h3v3h-3zM108 254h3v3h-3zM108 261h3v3h-3zM108 268h3v1h-3zM108 283h3v2h-3zM108 291h3v3h-3zM108 296h3v1h-3zM108 307h3v3h-3zM108 318h3v4h-3zM108 221h3v3h-3zM114 260h3v3h-3zM114 285h3v3h-3zM114 298h3v2h-3zM114 301h3v1h-3zM114 311h3v2h-3zM114 316h3v2h-3zM114 214h3v3h-3zM120 258h3v6h-3zM120 265h3v1h-3zM120 274h3v3h-3zM120 282h3v2h-3zM120 286h3v2h-3zM120 292h3v6h-3zM120 299h3v2h-3zM120 310h3v2h-3zM120 318h3v4h-3zM120 196h3v3h-3zM126 264h3v4h-3zM126 269h3v1h-3zM126 286h3v3h-3zM126 301h3v1h-3zM126 320h3v1h-3zM126 322h3v2h-3zM126 206h3v3h-3zM132 253h3v3h-3zM132 264h3v4h-3zM132 269h3v1h-3zM132 272h3v3h-3zM132 280h3v3h-3zM132 291h3v3h-3zM132 295h3v3h-3zM132 317h3v2h-3zM132 321h3v5h-3zM132 212h3v3h-3zM138 264h3v5h-3zM138 272h3v3h-3zM138 288h3v2h-3zM138 292h3v6h-3zM138 304h3v6h-3zM138 315h3v3h-3zM138 320h3v1h-3zM138 223h3v3h-3zM145 272h3v3h-3zM145 279h3v3h-3zM145 283h3v1h-3zM145 304h3v3h-3zM145 324h3v1h-3zM151 283h3v2h-3zM151 285h3v3h-3zM151 297h3v5h-3zM151 314h3v2h-3zM151 321h3v3h-3zM157 295h3v1h-3zM157 298h3v2h-3zM157 307h3v5h-3zM157 317h3v1h-3zM157 321h3v3h-3zM163 296h3v4h-3zM163 304h3v6h-3zM163 316h3v2h-3zM163 322h3v2h-3zM169 295h3v3h-3zM169 299h3v3h-3zM169 307h3v7h-3zM169 316h3v3h-3zM169 322h3v5h-3zM175 195h3v3h-3zM175 284h3v4h-3zM175 292h3v4h-3zM175 299h3v3h-3zM175 304h3v6h-3zM175 311h3v6h-3zM181 284h3v4h-3zM181 291h3v3h-3zM181 304h3v3h-3zM181 312h3v3h-3zM181 317h3v3h-3zM181 321h3v1h-3zM188 195h3v3h-3zM188 205h3v3h-3zM188 279h3v7h-3zM188 296h3v1h-3zM188 298h3v1h-3zM188 304h3v3h-3zM188 318h3v2h-3zM188 320h3v4h-3zM194 285h3v1h-3zM194 291h3v3h-3zM194 297h3v1h-3zM194 304h3v3h-3zM194 315h3v5h-3zM194 261h3v6h-3zM194 268h3v1h-3zM200 280h3v6h-3zM200 292h3v4h-3zM200 297h3v1h-3zM200 304h3v3h-3zM200 308h3v3h-3zM200 232h3v3h-3zM200 236h3v1h-3zM200 238h3v1h-3zM200 240h3v10h-3zM200 252h3v1h-3zM200 258h3v2h-3zM200 267h3v2h-3zM206 279h3v3h-3zM206 290h3v2h-3zM206 297h3v1h-3zM206 300h3v2h-3zM206 315h3v3h-3zM206 246h3v1h-3zM206 248h3v5h-3zM206 259h3v3h-3zM206 267h3v2h-3zM212 282h3v4h-3zM212 298h3v2h-3zM212 215h3v7h-3zM212 228h3v3h-3zM212 243h3v2h-3zM212 257h3v1h-3zM212 264h3v3h-3zM218 112h3v3h-3zM218 280h3v8h-3zM218 204h3v3h-3zM218 228h3v5h-3zM218 246h3v2h-3zM218 255h3v2h-3zM218 260h3v3h-3zM225 277h3v8h-3zM225 286h3v2h-3zM225 193h3v2h-3zM225 195h3v3h-3zM225 204h3v2h-3zM225 209h3v4h-3zM225 231h3v3h-3zM225 237h3v5h-3zM225 246h3v2h-3zM225 252h3v5h-3zM225 261h3v3h-3zM225 268h3v2h-3zM231 282h3v4h-3zM231 190h3v3h-3zM231 194h3v1h-3zM231 195h3v2h-3zM231 215h3v1h-3zM231 221h3v3h-3zM231 237h3v5h-3zM231 248h3v6h-3zM237 78h3v3h-3zM237 190h3v3h-3zM237 198h3v2h-3zM237 206h3v1h-3zM237 215h3v1h-3zM237 218h3v2h-3zM237 220h3v1h-3zM237 225h3v2h-3zM237 240h3v5h-3zM237 245h3v3h-3zM237 265h3v3h-3zM243 270h3v1h-3zM243 184h3v3h-3zM243 188h3v2h-3zM243 191h3v2h-3zM243 196h3v2h-3zM243 203h3v1h-3zM243 209h3v1h-3zM243 234h3v3h-3zM243 243h3v2h-3zM243 246h3v8h-3zM243 268h3v2h-3zM249 170h3v3h-3zM249 181h3v1h-3zM249 188h3v3h-3zM249 198h3v3h-3zM249 203h3v1h-3zM249 215h3v3h-3zM249 219h3v1h-3zM249 220h3v4h-3zM249 252h3v3h-3zM249 260h3v3h-3zM255 142h3v4h-3zM255 157h3v1h-3zM255 188h3v5h-3zM255 198h3v2h-3zM255 204h3v2h-3zM255 212h3v1h-3zM255 218h3v1h-3zM255 239h3v4h-3zM255 246h3v5h-3zM255 252h3v2h-3zM261 160h3v3h-3zM261 167h3v2h-3zM261 181h3v1h-3zM261 188h3v3h-3zM261 206h3v1h-3zM261 215h3v1h-3zM261 225h3v2h-3zM261 228h3v3h-3zM261 243h3v2h-3zM261 245h3v1h-3zM261 248h3v3h-3zM268 151h3v3h-3zM268 157h3v1h-3zM268 175h3v1h-3zM268 181h3v1h-3zM268 188h3v3h-3zM268 193h3v1h-3zM268 207h3v3h-3zM268 215h3v3h-3zM268 228h3v8h-3zM268 237h3v2h-3zM268 240h3v5h-3zM268 245h3v1h-3zM274 90h3v3h-3zM274 148h3v2h-3zM274 150h3v1h-3zM274 152h3v2h-3zM274 155h3v3h-3zM274 163h3v3h-3zM274 170h3v5h-3zM274 175h3v1h-3zM274 209h3v1h-3zM274 212h3v1h-3zM274 242h3v6h-3zM280 124h3v6h-3zM280 139h3v3h-3zM280 154h3v1h-3zM280 193h3v3h-3zM280 197h3v1h-3zM280 206h3v3h-3zM280 215h3v1h-3zM280 228h3v3h-3zM280 236h3v1h-3zM280 277h3v3h-3zM286 142h3v4h-3zM286 154h3v3h-3zM286 187h3v1h-3zM286 198h3v2h-3zM286 206h3v1h-3zM286 210h3v2h-3zM286 225h3v2h-3zM286 231h3v11h-3zM292 84h3v3h-3zM292 142h3v3h-3zM292 148h3v2h-3zM292 150h3v1h-3zM292 163h3v1h-3zM292 181h3v4h-3zM292 203h3v3h-3zM292 210h3v2h-3zM292 227h3v4h-3zM292 233h3v1h-3zM298 78h3v3h-3zM298 139h3v1h-3zM298 142h3v3h-3zM298 150h3v1h-3zM298 166h3v1h-3zM298 172h3v3h-3zM298 204h3v2h-3zM298 207h3v2h-3zM298 213h3v2h-3zM298 218h3v1h-3zM298 221h3v3h-3zM298 234h3v5h-3zM304 137h3v5h-3zM304 143h3v2h-3zM304 196h3v1h-3zM304 198h3v2h-3zM304 200h3v1h-3zM304 213h3v2h-3zM304 227h3v7h-3zM311 124h3v3h-3zM311 131h3v2h-3zM311 134h3v3h-3zM311 139h3v4h-3zM311 170h3v2h-3zM311 178h3v3h-3zM311 182h3v5h-3zM311 194h3v3h-3zM311 198h3v2h-3zM311 206h3v3h-3zM311 221h3v3h-3zM311 225h3v2h-3zM311 228h3v6h-3zM311 236h3v1h-3zM317 105h3v3h-3zM317 109h3v4h-3zM317 117h3v3h-3zM317 123h3v3h-3zM317 142h3v3h-3zM317 178h3v1h-3zM317 182h3v3h-3zM317 204h3v2h-3zM317 231h3v2h-3zM317 234h3v3h-3zM323 78h3v3h-3zM323 105h3v4h-3zM323 114h3v4h-3zM323 120h3v3h-3zM323 124h3v3h-3zM323 161h3v2h-3zM323 176h3v3h-3zM323 187h3v1h-3zM323 197h3v1h-3zM323 207h3v2h-3zM323 219h3v5h-3zM323 227h3v4h-3zM323 236h3v3h-3zM329 63h3v3h-3zM329 117h3v7h-3zM329 128h3v2h-3zM329 131h3v3h-3zM329 148h3v2h-3zM329 150h3v1h-3zM329 155h3v2h-3zM329 182h3v3h-3zM329 203h3v1h-3zM329 206h3v1h-3zM329 221h3v3h-3zM329 227h3v3h-3zM329 231h3v5h-3zM335 148h3v2h-3zM335 150h3v1h-3zM335 169h3v1h-3zM335 179h3v2h-3zM335 193h3v1h-3zM335 198h3v2h-3zM335 200h3v1h-3zM335 212h3v1h-3zM335 224h3v1h-3zM335 231h3v6h-3zM341 82h3v3h-3zM341 137h3v5h-3zM341 160h3v1h-3zM341 164h3v3h-3zM341 194h3v2h-3zM341 198h3v2h-3zM341 200h3v1h-3zM341 204h3v2h-3zM341 212h3v1h-3zM341 218h3v1h-3zM341 221h3v3h-3zM341 227h3v3h-3zM341 233h3v3h-3zM347 133h3v1h-3zM347 161h3v2h-3zM347 164h3v2h-3zM347 167h3v3h-3zM347 225h3v2h-3zM347 233h3v6h-3zM347 263h3v3h-3zM354 79h3v3h-3zM354 114h3v3h-3zM354 127h3v1h-3zM354 130h3v1h-3zM354 140h3v2h-3zM354 157h3v1h-3zM354 164h3v2h-3zM354 167h3v3h-3zM354 185h3v2h-3zM354 191h3v2h-3zM354 206h3v1h-3zM354 227h3v3h-3zM354 231h3v2h-3zM360 103h3v3h-3zM360 112h3v5h-3zM360 118h3v2h-3zM360 122h3v6h-3zM360 131h3v3h-3zM360 136h3v2h-3zM360 203h3v1h-3zM360 207h3v2h-3zM360 210h3v5h-3zM360 216h3v2h-3zM360 225h3v2h-3zM360 228h3v5h-3zM366 120h3v3h-3zM366 124h3v3h-3zM366 142h3v4h-3zM366 154h3v3h-3zM366 178h3v1h-3zM366 187h3v3h-3zM366 200h3v3h-3zM366 206h3v3h-3zM366 212h3v3h-3zM366 221h3v4h-3zM372 87h3v3h-3zM372 125h3v3h-3zM372 155h3v2h-3zM372 158h3v2h-3zM372 164h3v2h-3zM372 178h3v1h-3zM372 194h3v2h-3zM372 200h3v1h-3zM372 207h3v5h-3zM372 221h3v3h-3zM372 233h3v4h-3zM378 128h3v6h-3zM378 145h3v1h-3zM378 187h3v3h-3zM378 198h3v2h-3zM378 201h3v2h-3zM378 206h3v1h-3zM378 212h3v1h-3zM378 225h3v5h-3zM378 233h3v3h-3zM378 237h3v2h-3zM378 240h3v3h-3zM384 307h3v3h-3zM384 124h3v1h-3zM384 125h3v3h-3zM384 130h3v1h-3zM384 148h3v1h-3zM384 170h3v2h-3zM384 175h3v1h-3zM384 216h3v2h-3zM384 227h3v1h-3zM384 231h3v6h-3zM390 131h3v5h-3zM390 140h3v2h-3zM390 149h3v1h-3zM390 150h3v2h-3zM390 154h3v1h-3zM390 157h3v1h-3zM390 181h3v1h-3zM390 187h3v3h-3zM390 196h3v1h-3zM390 204h3v2h-3zM390 210h3v2h-3zM390 213h3v2h-3zM390 218h3v1h-3zM390 230h3v7h-3zM397 84h3v3h-3zM397 130h3v3h-3zM397 139h3v3h-3zM397 146h3v2h-3zM397 172h3v3h-3zM397 188h3v3h-3zM397 194h3v2h-3zM397 210h3v5h-3zM397 228h3v6h-3zM397 236h3v1h-3zM397 239h3v3h-3zM403 67h3v3h-3zM403 124h3v1h-3zM403 125h3v2h-3zM403 131h3v3h-3zM403 151h3v1h-3zM403 155h3v2h-3zM403 178h3v1h-3zM403 198h3v2h-3zM403 200h3v1h-3zM403 203h3v1h-3zM403 210h3v2h-3zM403 213h3v2h-3zM403 221h3v3h-3zM403 225h3v3h-3zM403 231h3v5h-3zM403 237h3v2h-3zM403 243h3v3h-3zM409 118h3v5h-3zM409 124h3v1h-3zM409 125h3v5h-3zM409 158h3v2h-3zM409 172h3v1h-3zM409 176h3v2h-3zM409 181h3v1h-3zM409 213h3v2h-3zM409 218h3v1h-3zM409 228h3v8h-3zM409 239h3v9h-3zM415 100h3v3h-3zM415 112h3v2h-3zM415 117h3v1h-3zM415 125h3v3h-3zM415 130h3v3h-3zM415 187h3v3h-3zM415 198h3v2h-3zM415 218h3v1h-3zM415 221h3v3h-3zM415 228h3v5h-3zM415 237h3v2h-3zM415 248h3v3h-3zM421 102h3v3h-3zM421 106h3v3h-3zM421 111h3v3h-3zM421 117h3v3h-3zM421 123h3v2h-3zM421 125h3v2h-3zM421 148h3v1h-3zM421 167h3v2h-3zM421 193h3v1h-3zM421 215h3v1h-3zM421 228h3v6h-3zM421 243h3v5h-3zM421 263h3v3h-3zM427 298h3v3h-3zM427 106h3v9h-3zM427 123h3v2h-3zM427 125h3v1h-3zM427 131h3v2h-3zM427 145h3v4h-3zM427 163h3v4h-3zM427 170h3v3h-3zM427 181h3v1h-3zM427 193h3v1h-3zM427 204h3v2h-3zM427 215h3v1h-3zM427 225h3v2h-3zM427 236h3v7h-3zM427 244h3v2h-3zM433 100h3v6h-3zM433 121h3v4h-3zM433 125h3v2h-3zM433 128h3v8h-3zM433 166h3v3h-3zM433 188h3v3h-3zM433 193h3v1h-3zM433 198h3v2h-3zM433 200h3v1h-3zM433 207h3v3h-3zM433 215h3v1h-3zM433 240h3v8h-3zM440 112h3v3h-3zM440 121h3v4h-3zM440 125h3v1h-3zM440 127h3v3h-3zM440 142h3v3h-3zM440 152h3v3h-3zM440 178h3v1h-3zM440 200h3v1h-3zM440 215h3v1h-3zM440 231h3v6h-3zM440 243h3v6h-3zM440 251h3v1h-3zM446 103h3v6h-3zM446 112h3v2h-3zM446 115h3v2h-3zM446 120h3v4h-3zM446 127h3v3h-3zM446 131h3v2h-3zM446 140h3v3h-3zM446 148h3v1h-3zM446 175h3v1h-3zM446 196h3v2h-3zM446 203h3v3h-3zM446 216h3v2h-3zM446 228h3v3h-3zM446 236h3v1h-3zM446 239h3v3h-3zM446 249h3v5h-3zM446 258h3v3h-3zM452 106h3v3h-3zM452 115h3v9h-3zM452 127h3v3h-3zM452 140h3v3h-3zM452 173h3v2h-3zM452 176h3v2h-3zM452 198h3v2h-3zM452 201h3v2h-3zM452 215h3v1h-3zM452 221h3v3h-3zM452 228h3v3h-3zM452 233h3v9h-3zM452 248h3v9h-3zM458 106h3v3h-3zM458 114h3v10h-3zM458 126h3v4h-3zM458 131h3v5h-3zM458 137h3v3h-3zM458 152h3v3h-3zM458 163h3v3h-3zM458 184h3v3h-3zM458 206h3v1h-3zM458 210h3v2h-3zM458 221h3v4h-3zM458 231h3v2h-3zM458 236h3v3h-3zM458 246h3v2h-3zM464 123h3v2h-3zM464 125h3v1h-3zM464 130h3v4h-3zM464 169h3v3h-3zM464 182h3v3h-3zM464 187h3v3h-3zM464 196h3v1h-3zM464 206h3v1h-3zM464 210h3v2h-3zM464 237h3v2h-3zM464 245h3v1h-3zM464 250h3v2h-3zM464 253h3v2h-3zM464 258h3v9h-3zM464 268h3v2h-3zM470 130h3v4h-3zM470 140h3v2h-3zM470 148h3v1h-3zM470 163h3v3h-3zM470 167h3v3h-3zM470 178h3v3h-3zM470 188h3v3h-3zM470 209h3v3h-3zM470 213h3v3h-3zM470 218h3v1h-3zM470 230h3v6h-3zM470 239h3v3h-3zM470 249h3v1h-3zM470 250h3v1h-3zM470 255h3v2h-3zM470 258h3v3h-3zM470 264h3v3h-3zM470 268h3v2h-3zM470 271h3v3h-3zM470 283h3v2h-3zM476 128h3v2h-3zM476 142h3v3h-3zM476 169h3v3h-3zM476 178h3v1h-3zM476 203h3v1h-3zM476 233h3v3h-3zM476 245h3v3h-3zM476 249h3v1h-3zM476 250h3v5h-3zM476 258h3v9h-3zM476 280h3v5h-3zM476 286h3v3h-3zM483 139h3v3h-3zM483 143h3v5h-3zM483 172h3v1h-3zM483 178h3v1h-3zM483 182h3v3h-3zM483 188h3v5h-3zM483 197h3v1h-3zM483 203h3v4h-3zM483 209h3v3h-3zM483 215h3v3h-3zM483 242h3v1h-3zM483 245h3v1h-3zM483 251h3v4h-3zM483 258h3v3h-3zM483 264h3v3h-3zM483 271h3v3h-3zM483 279h3v3h-3zM489 137h3v9h-3zM489 148h3v2h-3zM489 150h3v1h-3zM489 163h3v3h-3zM489 169h3v3h-3zM489 179h3v3h-3zM489 197h3v3h-3zM489 203h3v6h-3zM489 210h3v3h-3zM489 233h3v3h-3zM489 239h3v3h-3zM489 248h3v2h-3zM489 250h3v1h-3zM489 260h3v3h-3zM489 264h3v10h-3zM489 285h3v3h-3zM489 289h3v2h-3zM489 292h3v8h-3zM495 93h3v3h-3zM495 148h3v2h-3zM495 150h3v2h-3zM495 160h3v1h-3zM495 179h3v2h-3zM495 182h3v5h-3zM495 196h3v1h-3zM495 216h3v2h-3zM495 231h3v2h-3zM495 239h3v3h-3zM495 243h3v3h-3zM495 248h3v2h-3zM495 250h3v5h-3zM495 258h3v5h-3zM495 264h3v2h-3zM495 268h3v3h-3zM495 285h3v6h-3zM495 297h3v3h-3zM501 145h3v3h-3zM501 152h3v3h-3zM501 167h3v3h-3zM501 191h3v2h-3zM501 196h3v1h-3zM501 203h3v1h-3zM501 207h3v2h-3zM501 224h3v1h-3zM501 228h3v3h-3zM501 239h3v4h-3zM501 254h3v3h-3zM501 264h3v3h-3zM501 271h3v3h-3zM501 285h3v6h-3zM501 292h3v3h-3zM501 300h3v1h-3zM507 139h3v10h-3zM507 161h3v2h-3zM507 166h3v1h-3zM507 169h3v3h-3zM507 176h3v2h-3zM507 206h3v1h-3zM507 215h3v3h-3zM507 221h3v3h-3zM507 227h3v3h-3zM507 233h3v1h-3zM507 239h3v3h-3zM507 248h3v2h-3zM507 250h3v2h-3zM507 255h3v2h-3zM507 267h3v3h-3zM507 288h3v3h-3zM507 295h3v2h-3zM507 298h3v3h-3zM507 304h3v6h-3zM507 331h3v3h-3zM513 160h3v1h-3zM513 163h3v3h-3zM513 172h3v3h-3zM513 184h3v3h-3zM513 198h3v2h-3zM513 212h3v3h-3zM513 225h3v2h-3zM513 242h3v3h-3zM513 246h3v2h-3zM513 252h3v3h-3zM513 260h3v3h-3zM513 264h3v3h-3zM513 285h3v3h-3zM513 292h3v3h-3zM513 298h3v3h-3zM513 303h3v6h-3zM513 315h3v1h-3zM513 317h3v2h-3zM520 180h3v1h-3zM520 195h3v1h-3zM520 199h3v1h-3zM520 200h3v5h-3zM520 215h3v2h-3zM520 221h3v3h-3zM520 227h3v1h-3zM520 234h3v1h-3zM520 236h3v3h-3zM520 240h3v2h-3zM520 254h3v3h-3zM520 274h3v1h-3zM520 275h3v2h-3zM520 287h3v4h-3zM520 300h3v1h-3zM520 304h3v3h-3zM520 311h3v1h-3zM520 314h3v3h-3zM520 318h3v4h-3zM526 183h3v3h-3zM526 191h3v1h-3zM526 193h3v1h-3zM526 195h3v1h-3zM526 204h3v1h-3zM526 206h3v1h-3zM526 216h3v1h-3zM526 227h3v4h-3zM526 243h3v2h-3zM526 253h3v1h-3zM526 257h3v6h-3zM526 265h3v1h-3zM526 268h3v2h-3zM526 274h3v1h-3zM526 279h3v3h-3zM526 283h3v2h-3zM526 289h3v2h-3zM526 299h3v2h-3zM526 303h3v3h-3zM526 308h3v11h-3zM526 320h3v3h-3zM532 192h3v7h-3zM532 205h3v1h-3zM532 207h3v1h-3zM532 220h3v1h-3zM532 232h3v2h-3zM532 237h3v3h-3zM532 243h3v1h-3zM532 248h3v2h-3zM532 250h3v1h-3zM532 258h3v4h-3zM532 264h3v2h-3zM532 269h3v3h-3zM532 280h3v3h-3zM532 284h3v2h-3zM532 296h3v2h-3zM532 300h3v1h-3zM532 304h3v4h-3zM532 312h3v2h-3zM538 179h3v5h-3zM538 195h3v4h-3zM538 200h3v1h-3zM538 215h3v3h-3zM538 219h3v1h-3zM538 224h3v1h-3zM538 225h3v2h-3zM538 229h3v3h-3zM538 237h3v3h-3zM538 242h3v1h-3zM538 247h3v2h-3zM538 255h3v6h-3zM538 263h3v1h-3zM538 269h3v3h-3zM538 284h3v1h-3zM538 287h3v3h-3zM538 297h3v1h-3zM538 300h3v2h-3zM538 304h3v4h-3zM538 314h3v3h-3zM544 219h3v1h-3zM544 243h3v1h-3zM544 249h3v1h-3zM544 250h3v7h-3zM544 260h3v7h-3zM544 282h3v3h-3zM544 304h3v3h-3zM544 326h3v3h-3zM550 189h3v3h-3zM550 219h3v5h-3zM550 243h3v1h-3zM550 249h3v1h-3zM550 250h3v2h-3zM550 260h3v3h-3zM550 292h3v2h-3zM550 296h3v2h-3zM556 237h3v3h-3zM556 248h3v2h-3zM556 250h3v2h-3zM556 264h3v2h-3zM556 279h3v3h-3zM556 285h3v2h-3zM556 292h3v3h-3zM556 297h3v5h-3zM563 228h3v4h-3zM563 234h3v8h-3zM563 244h3v3h-3zM563 249h3v1h-3zM563 250h3v2h-3zM563 256h3v1h-3zM563 280h3v6h-3zM563 297h3v1h-3zM569 190h3v3h-3zM569 240h3v3h-3zM569 246h3v4h-3zM569 250h3v3h-3zM569 256h3v1h-3zM569 261h3v6h-3zM569 268h3v1h-3zM569 271h3v3h-3zM569 279h3v11h-3zM569 294h3v3h-3zM569 307h3v3h-3zM575 237h3v3h-3zM575 244h3v6h-3zM575 250h3v2h-3zM575 253h3v4h-3zM575 263h3v1h-3zM575 267h3v1h-3zM575 285h3v1h-3zM575 295h3v1h-3zM575 300h3v1h-3zM575 304h3v7h-3zM575 312h3v5h-3zM575 318h3v3h-3zM581 229h3v3h-3zM581 234h3v3h-3zM581 240h3v2h-3zM581 243h3v3h-3zM581 248h3v1h-3zM581 250h3v1h-3zM581 253h3v3h-3zM581 261h3v1h-3zM581 263h3v4h-3zM581 268h3v1h-3zM581 271h3v3h-3zM581 279h3v3h-3zM581 283h3v3h-3zM581 302h3v1h-3zM581 310h3v1h-3zM581 314h3v3h-3zM587 238h3v3h-3zM587 246h3v1h-3zM587 249h3v1h-3zM587 250h3v3h-3zM587 261h3v1h-3zM587 265h3v2h-3zM587 283h3v1h-3zM587 285h3v2h-3zM587 297h3v1h-3zM587 301h3v1h-3zM587 304h3v3h-3zM587 314h3v2h-3zM587 318h3v4h-3zM593 237h3v6h-3zM593 245h3v3h-3zM593 254h3v3h-3zM593 264h3v2h-3zM593 267h3v1h-3zM593 270h3v3h-3zM593 280h3v3h-3zM593 285h3v1h-3zM593 287h3v1h-3zM593 315h3v2h-3zM593 318h3v4h-3zM599 237h3v3h-3zM599 241h3v2h-3zM599 244h3v2h-3zM599 248h3v2h-3zM599 263h3v4h-3zM599 268h3v1h-3zM599 279h3v3h-3zM599 283h3v1h-3zM599 286h3v1h-3zM599 291h3v3h-3zM599 295h3v3h-3zM599 300h3v3h-3zM599 308h3v1h-3zM599 311h3v3h-3zM599 316h3v1h-3zM599 318h3v1h-3zM606 183h3v3h-3zM606 195h3v4h-3zM606 216h3v3h-3zM606 241h3v3h-3zM606 246h3v2h-3zM606 251h3v1h-3zM606 253h3v4h-3zM606 263h3v1h-3zM606 266h3v3h-3zM606 282h3v3h-3zM606 288h3v1h-3zM606 300h3v2h-3zM606 314h3v4h-3zM612 195h3v3h-3zM612 247h3v3h-3zM612 250h3v2h-3zM612 253h3v1h-3zM612 257h3v1h-3zM612 260h3v3h-3zM612 266h3v1h-3zM612 279h3v3h-3zM612 295h3v2h-3zM612 298h3v1h-3zM612 302h3v1h-3zM612 311h3v3h-3zM612 315h3v2h-3zM612 318h3v5h-3zM618 239h3v11h-3zM618 250h3v1h-3zM618 255h3v1h-3zM618 263h3v1h-3zM618 267h3v5h-3zM618 279h3v6h-3zM618 286h3v2h-3zM618 293h3v5h-3zM618 300h3v1h-3zM618 302h3v1h-3zM618 304h3v10h-3zM618 316h3v2h-3zM618 319h3v2h-3zM618 323h3v1h-3zM624 195h3v3h-3zM624 242h3v3h-3zM624 246h3v1h-3zM624 248h3v1h-3zM624 250h3v7h-3zM624 264h3v2h-3zM624 270h3v3h-3zM624 279h3v3h-3zM624 304h3v3h-3zM624 310h3v1h-3zM624 312h3v6h-3zM630 195h3v3h-3zM630 248h3v2h-3zM630 253h3v3h-3zM630 258h3v3h-3zM630 264h3v1h-3zM630 266h3v1h-3zM630 270h3v3h-3zM630 281h3v7h-3zM630 291h3v3h-3zM630 295h3v1h-3zM630 298h3v2h-3zM630 304h3v6h-3zM630 311h3v3h-3zM630 316h3v2h-3zM630 319h3v3h-3zM636 195h3v3h-3zM636 241h3v3h-3zM636 245h3v2h-3zM636 248h3v2h-3zM636 250h3v2h-3zM636 253h3v1h-3zM636 259h3v5h-3zM636 275h3v3h-3zM636 279h3v3h-3zM636 283h3v1h-3zM636 285h3v2h-3zM636 292h3v3h-3zM636 297h3v3h-3zM636 300h3v2h-3zM636 304h3v3h-3zM636 318h3v1h-3zM642 241h3v3h-3zM642 245h3v3h-3zM642 250h3v1h-3zM642 252h3v2h-3zM642 257h3v1h-3zM642 275h3v3h-3zM642 285h3v1h-3zM642 287h3v3h-3zM642 299h3v1h-3zM642 300h3v2h-3zM642 315h3v2h-3zM649 236h3v3h-3zM649 245h3v3h-3zM649 250h3v3h-3zM649 255h3v2h-3zM649 261h3v1h-3zM649 263h3v1h-3zM649 269h3v3h-3zM649 284h3v1h-3zM649 296h3v1h-3zM649 298h3v2h-3zM649 300h3v2h-3zM649 303h3v3h-3zM649 307h3v9h-3zM649 324h3v1h-3zM649 333h3v2h-3zM655 243h3v3h-3zM655 248h3v2h-3zM655 250h3v1h-3zM655 269h3v3h-3zM655 277h3v3h-3zM655 282h3v1h-3zM655 287h3v3h-3zM655 291h3v3h-3zM655 300h3v1h-3zM655 311h3v1h-3zM655 318h3v1h-3zM655 320h3v1h-3zM661 242h3v7h-3zM661 250h3v3h-3zM661 254h3v2h-3zM661 257h3v5h-3zM661 263h3v4h-3zM661 282h3v2h-3zM661 287h3v1h-3zM661 292h3v3h-3zM661 296h3v1h-3zM661 300h3v2h-3zM661 304h3v3h-3zM661 315h3v4h-3zM661 321h3v3h-3z"/>
<path fill="#ff0000" d="M77 287h3v1h-3zM77 292h3v7h-3zM77 304h3v3h-3zM83 284h3v1h-3zM83 295h3v2h-3zM83 298h3v1h-3zM89 298h3v1h-3zM95 283h3v1h-3zM95 285h3v1h-3zM95 288h3v1h-3zM95 293h3v1h-3zM95 295h3v1h-3zM102 279h3v3h-3zM102 286h3v2h-3zM102 296h3v1h-3zM102 299h3v1h-3zM102 301h3v1h-3zM102 304h3v3h-3zM108 294h3v2h-3zM108 297h3v2h-3zM108 304h3v3h-3zM108 316h3v2h-3zM114 293h3v5h-3zM114 300h3v1h-3zM114 310h3v1h-3zM114 313h3v1h-3zM114 315h3v1h-3zM114 319h3v2h-3zM120 279h3v3h-3zM120 285h3v1h-3zM120 298h3v1h-3zM126 279h3v3h-3zM126 284h3v1h-3zM126 292h3v4h-3zM126 297h3v2h-3zM126 310h3v1h-3zM126 315h3v1h-3zM126 317h3v3h-3zM132 298h3v1h-3zM138 287h3v1h-3zM138 298h3v1h-3zM138 310h3v1h-3zM145 295h3v3h-3zM145 310h3v1h-3zM145 317h3v1h-3zM151 296h3v1h-3zM151 307h3v4h-3zM151 316h3v3h-3zM157 315h3v2h-3zM163 315h3v1h-3zM175 298h3v1h-3zM181 296h3v1h-3zM181 309h3v2h-3zM181 315h3v1h-3zM188 307h3v4h-3zM188 317h3v1h-3zM200 250h3v1h-3zM200 253h3v1h-3zM200 262h3v2h-3zM200 266h3v1h-3zM206 282h3v3h-3zM212 222h3v3h-3zM212 231h3v3h-3zM212 236h3v1h-3zM212 242h3v1h-3zM212 245h3v3h-3zM212 249h3v2h-3zM212 255h3v2h-3zM212 260h3v4h-3zM218 210h3v2h-3zM218 215h3v3h-3zM218 219h3v5h-3zM218 234h3v3h-3zM225 198h3v2h-3zM225 203h3v1h-3zM225 207h3v2h-3zM225 218h3v2h-3zM225 220h3v1h-3zM225 224h3v1h-3zM225 242h3v3h-3zM225 245h3v1h-3zM231 197h3v7h-3zM231 206h3v1h-3zM231 210h3v3h-3zM231 216h3v3h-3zM231 236h3v1h-3zM237 193h3v2h-3zM237 195h3v1h-3zM237 201h3v3h-3zM237 213h3v2h-3zM237 216h3v2h-3zM243 190h3v1h-3zM243 193h3v1h-3zM243 201h3v2h-3zM243 204h3v5h-3zM243 210h3v2h-3zM243 213h3v5h-3zM243 245h3v1h-3zM249 176h3v2h-3zM249 191h3v4h-3zM249 195h3v3h-3zM249 201h3v2h-3zM249 204h3v2h-3zM249 207h3v6h-3zM249 224h3v3h-3zM249 240h3v3h-3zM255 161h3v9h-3zM255 172h3v9h-3zM255 193h3v1h-3zM255 200h3v3h-3zM255 206h3v6h-3zM255 213h3v2h-3zM255 219h3v1h-3zM255 220h3v1h-3zM255 224h3v1h-3zM261 166h3v1h-3zM261 169h3v1h-3zM261 172h3v1h-3zM261 179h3v2h-3zM261 185h3v2h-3zM261 191h3v4h-3zM261 195h3v1h-3zM261 197h3v4h-3zM261 207h3v8h-3zM261 216h3v4h-3zM261 220h3v1h-3zM268 161h3v3h-3zM268 166h3v4h-3zM268 170h3v3h-3zM268 176h3v5h-3zM268 191h3v2h-3zM268 200h3v1h-3zM268 203h3v4h-3zM268 210h3v5h-3zM268 221h3v4h-3zM274 158h3v2h-3zM274 176h3v2h-3zM274 191h3v3h-3zM274 197h3v1h-3zM274 200h3v1h-3zM274 203h3v3h-3zM274 210h3v2h-3zM274 216h3v5h-3zM274 224h3v1h-3zM274 234h3v2h-3zM280 142h3v6h-3zM280 149h3v1h-3zM280 150h3v4h-3zM280 155h3v5h-3zM280 161h3v5h-3zM280 167h3v5h-3zM280 176h3v5h-3zM280 200h3v3h-3zM280 209h3v3h-3zM280 216h3v8h-3zM280 225h3v2h-3zM286 149h3v1h-3zM286 150h3v1h-3zM286 157h3v4h-3zM286 164h3v2h-3zM286 167h3v6h-3zM286 175h3v1h-3zM286 178h3v4h-3zM286 185h3v2h-3zM286 191h3v3h-3zM286 196h3v2h-3zM286 203h3v1h-3zM286 209h3v1h-3zM286 212h3v1h-3zM286 216h3v2h-3zM286 221h3v4h-3zM292 155h3v8h-3zM292 164h3v5h-3zM292 170h3v5h-3zM292 175h3v3h-3zM292 196h3v1h-3zM292 200h3v1h-3zM292 206h3v1h-3zM292 216h3v5h-3zM292 236h3v1h-3zM298 140h3v2h-3zM298 145h3v3h-3zM298 149h3v1h-3zM298 152h3v9h-3zM298 164h3v2h-3zM298 167h3v5h-3zM298 191h3v6h-3zM304 142h3v1h-3zM304 145h3v5h-3zM304 150h3v2h-3zM304 154h3v6h-3zM304 166h3v1h-3zM304 169h3v6h-3zM304 175h3v7h-3zM304 191h3v3h-3zM304 197h3v1h-3zM304 201h3v2h-3zM304 204h3v2h-3zM304 207h3v2h-3zM304 210h3v3h-3zM304 216h3v2h-3zM304 221h3v4h-3zM311 128h3v3h-3zM311 133h3v1h-3zM311 138h3v1h-3zM311 143h3v3h-3zM311 148h3v2h-3zM311 150h3v2h-3zM311 154h3v3h-3zM311 160h3v3h-3zM311 164h3v3h-3zM311 173h3v2h-3zM311 176h3v2h-3zM311 193h3v1h-3zM311 200h3v1h-3zM311 218h3v1h-3zM317 128h3v2h-3zM317 133h3v3h-3zM317 139h3v3h-3zM317 152h3v2h-3zM317 155h3v11h-3zM317 167h3v5h-3zM317 173h3v2h-3zM317 176h3v2h-3zM317 179h3v3h-3zM317 185h3v2h-3zM317 191h3v7h-3zM317 200h3v3h-3zM317 206h3v1h-3zM317 209h3v1h-3zM317 216h3v3h-3zM323 131h3v3h-3zM323 137h3v3h-3zM323 142h3v6h-3zM323 149h3v1h-3zM323 150h3v1h-3zM323 157h3v4h-3zM323 163h3v1h-3zM329 134h3v3h-3zM329 140h3v5h-3zM329 151h3v4h-3zM329 157h3v4h-3zM329 166h3v1h-3zM329 170h3v5h-3zM329 176h3v2h-3zM329 179h3v2h-3zM329 185h3v2h-3zM329 190h3v6h-3zM329 201h3v2h-3zM329 207h3v5h-3zM335 142h3v3h-3zM335 151h3v3h-3zM335 155h3v2h-3zM335 158h3v3h-3zM335 166h3v1h-3zM335 173h3v2h-3zM335 194h3v3h-3zM335 213h3v3h-3zM335 218h3v3h-3zM335 228h3v3h-3zM341 142h3v1h-3zM341 145h3v1h-3zM341 148h3v2h-3zM341 150h3v8h-3zM341 161h3v3h-3zM341 172h3v1h-3zM341 176h3v6h-3zM341 188h3v6h-3zM341 210h3v2h-3zM347 130h3v1h-3zM347 143h3v7h-3zM347 150h3v1h-3zM347 152h3v2h-3zM347 155h3v5h-3zM347 166h3v1h-3zM347 170h3v5h-3zM347 175h3v1h-3zM347 178h3v1h-3zM347 181h3v1h-3zM347 193h3v1h-3zM347 196h3v2h-3zM347 200h3v1h-3zM347 204h3v2h-3zM347 212h3v3h-3zM354 126h3v1h-3zM354 128h3v2h-3zM354 131h3v5h-3zM354 138h3v2h-3zM354 142h3v8h-3zM354 150h3v7h-3zM354 158h3v5h-3zM354 166h3v1h-3zM354 170h3v2h-3zM354 173h3v2h-3zM354 175h3v3h-3zM354 179h3v2h-3zM354 193h3v1h-3zM354 196h3v4h-3zM354 200h3v1h-3zM354 204h3v2h-3zM354 209h3v6h-3zM354 221h3v3h-3zM360 134h3v2h-3zM360 143h3v6h-3zM360 151h3v4h-3zM360 157h3v4h-3zM360 164h3v9h-3zM360 175h3v1h-3zM360 179h3v2h-3zM360 194h3v2h-3zM360 197h3v1h-3zM360 221h3v3h-3zM366 137h3v2h-3zM366 146h3v4h-3zM366 150h3v4h-3zM366 158h3v3h-3zM366 167h3v6h-3zM366 179h3v2h-3zM366 185h3v2h-3zM366 190h3v8h-3zM366 216h3v2h-3zM366 219h3v2h-3zM372 137h3v2h-3zM372 142h3v1h-3zM372 145h3v3h-3zM372 149h3v1h-3zM372 150h3v2h-3zM372 157h3v1h-3zM372 161h3v3h-3zM372 169h3v4h-3zM372 175h3v3h-3zM372 181h3v1h-3zM372 191h3v3h-3zM372 196h3v1h-3zM372 203h3v3h-3zM378 140h3v5h-3zM378 146h3v2h-3zM378 149h3v1h-3zM378 150h3v4h-3zM378 155h3v2h-3zM378 158h3v2h-3zM378 166h3v1h-3zM378 170h3v5h-3zM378 176h3v5h-3zM378 182h3v5h-3zM378 190h3v8h-3zM378 200h3v1h-3zM378 203h3v3h-3zM378 207h3v3h-3zM378 213h3v3h-3zM378 219h3v2h-3zM378 224h3v1h-3zM384 131h3v3h-3zM384 137h3v11h-3zM384 149h3v1h-3zM384 150h3v2h-3zM384 154h3v4h-3zM384 160h3v1h-3zM384 166h3v3h-3zM384 172h3v3h-3zM384 176h3v6h-3zM384 191h3v2h-3zM384 194h3v2h-3zM384 197h3v1h-3zM384 200h3v1h-3zM384 204h3v2h-3zM384 215h3v1h-3zM384 219h3v2h-3zM390 139h3v1h-3zM390 142h3v1h-3zM390 145h3v1h-3zM390 152h3v2h-3zM390 158h3v5h-3zM390 166h3v4h-3zM390 172h3v3h-3zM390 176h3v2h-3zM390 190h3v1h-3zM390 193h3v1h-3zM390 197h3v1h-3zM390 201h3v2h-3zM390 206h3v1h-3zM397 136h3v3h-3zM397 142h3v3h-3zM397 148h3v2h-3zM397 150h3v10h-3zM397 164h3v2h-3zM397 176h3v2h-3zM397 179h3v2h-3zM397 197h3v1h-3zM397 203h3v3h-3zM403 134h3v2h-3zM403 139h3v1h-3zM403 143h3v6h-3zM403 158h3v3h-3zM403 166h3v4h-3zM403 172h3v1h-3zM403 175h3v3h-3zM403 179h3v2h-3zM403 188h3v8h-3zM403 197h3v1h-3zM403 201h3v2h-3zM403 204h3v2h-3zM409 131h3v3h-3zM409 137h3v3h-3zM409 142h3v3h-3zM409 146h3v4h-3zM409 150h3v1h-3zM409 152h3v2h-3zM409 157h3v1h-3zM409 160h3v3h-3zM409 164h3v2h-3zM409 167h3v5h-3zM409 173h3v2h-3zM409 178h3v3h-3zM409 188h3v5h-3zM409 196h3v2h-3zM409 200h3v3h-3zM409 206h3v1h-3zM409 210h3v2h-3zM415 115h3v2h-3zM415 143h3v2h-3zM415 146h3v4h-3zM415 150h3v5h-3zM415 158h3v2h-3zM415 161h3v2h-3zM415 164h3v2h-3zM415 167h3v8h-3zM415 176h3v6h-3zM415 190h3v6h-3zM415 200h3v3h-3zM415 206h3v4h-3zM415 213h3v3h-3zM415 224h3v1h-3zM421 128h3v3h-3zM421 142h3v3h-3zM421 146h3v2h-3zM421 151h3v3h-3zM421 157h3v7h-3zM421 169h3v4h-3zM421 176h3v3h-3zM421 181h3v1h-3zM421 191h3v2h-3zM421 194h3v4h-3zM421 203h3v6h-3zM421 216h3v2h-3zM421 219h3v2h-3zM427 115h3v2h-3zM427 149h3v1h-3zM427 150h3v2h-3zM427 154h3v1h-3zM427 157h3v1h-3zM427 173h3v2h-3zM427 178h3v3h-3zM427 191h3v2h-3zM427 194h3v2h-3zM427 198h3v2h-3zM427 200h3v3h-3zM427 206h3v1h-3zM427 209h3v1h-3zM427 216h3v2h-3zM427 221h3v4h-3zM433 136h3v3h-3zM433 140h3v6h-3zM433 148h3v2h-3zM433 150h3v4h-3zM433 155h3v5h-3zM433 176h3v6h-3zM433 191h3v2h-3zM433 194h3v2h-3zM433 197h3v1h-3zM433 201h3v2h-3zM433 204h3v2h-3zM433 212h3v1h-3zM440 133h3v3h-3zM440 137h3v3h-3zM440 145h3v3h-3zM440 151h3v1h-3zM440 155h3v5h-3zM440 169h3v1h-3zM440 173h3v2h-3zM440 175h3v3h-3zM440 179h3v3h-3zM440 191h3v5h-3zM440 197h3v3h-3zM440 203h3v3h-3zM440 207h3v3h-3zM440 216h3v2h-3zM440 221h3v4h-3zM446 137h3v3h-3zM446 143h3v2h-3zM446 146h3v2h-3zM446 149h3v1h-3zM446 150h3v4h-3zM446 157h3v3h-3zM446 170h3v5h-3zM446 181h3v1h-3zM446 184h3v3h-3zM446 191h3v5h-3zM446 198h3v2h-3zM446 200h3v1h-3zM446 215h3v1h-3zM446 218h3v7h-3zM452 143h3v3h-3zM452 152h3v2h-3zM452 157h3v3h-3zM452 172h3v1h-3zM452 181h3v1h-3zM452 185h3v2h-3zM452 191h3v2h-3zM452 194h3v4h-3zM452 200h3v1h-3zM452 209h3v1h-3zM452 216h3v3h-3zM452 224h3v1h-3zM452 244h3v2h-3zM458 140h3v3h-3zM458 145h3v5h-3zM458 150h3v1h-3zM458 157h3v1h-3zM458 169h3v4h-3zM458 179h3v3h-3zM458 193h3v3h-3zM458 198h3v2h-3zM458 200h3v1h-3zM458 204h3v2h-3zM458 225h3v2h-3zM458 228h3v3h-3zM464 137h3v3h-3zM464 145h3v5h-3zM464 150h3v1h-3zM464 152h3v2h-3zM464 157h3v3h-3zM464 173h3v2h-3zM464 179h3v3h-3zM464 191h3v5h-3zM464 200h3v6h-3zM464 212h3v3h-3zM464 216h3v8h-3zM464 242h3v3h-3zM464 246h3v2h-3zM470 137h3v3h-3zM470 143h3v3h-3zM470 149h3v1h-3zM470 150h3v4h-3zM470 155h3v3h-3zM470 170h3v2h-3zM470 173h3v2h-3zM470 175h3v3h-3zM470 185h3v2h-3zM470 193h3v1h-3zM470 196h3v1h-3zM470 200h3v3h-3zM470 204h3v2h-3zM470 207h3v2h-3zM470 219h3v2h-3zM470 224h3v1h-3zM470 225h3v2h-3zM470 267h3v1h-3zM476 148h3v2h-3zM476 150h3v4h-3zM476 155h3v3h-3zM476 166h3v3h-3zM476 172h3v3h-3zM476 175h3v3h-3zM476 190h3v6h-3zM476 198h3v2h-3zM476 200h3v1h-3zM476 206h3v1h-3zM476 216h3v9h-3zM476 268h3v2h-3zM483 148h3v1h-3zM483 152h3v2h-3zM483 155h3v5h-3zM483 169h3v3h-3zM483 173h3v2h-3zM483 175h3v3h-3zM483 193h3v1h-3zM483 198h3v2h-3zM483 201h3v2h-3zM483 218h3v1h-3zM483 225h3v2h-3zM483 243h3v2h-3zM489 157h3v1h-3zM489 172h3v3h-3zM489 175h3v4h-3zM489 190h3v4h-3zM489 221h3v3h-3zM489 225h3v2h-3zM489 242h3v4h-3zM495 154h3v4h-3zM495 172h3v3h-3zM495 176h3v3h-3zM495 191h3v2h-3zM495 194h3v2h-3zM495 197h3v3h-3zM495 201h3v2h-3zM495 219h3v6h-3zM495 225h3v2h-3zM495 228h3v3h-3zM495 246h3v2h-3zM495 255h3v2h-3zM501 142h3v3h-3zM501 149h3v1h-3zM501 150h3v2h-3zM501 155h3v3h-3zM501 160h3v1h-3zM501 164h3v3h-3zM501 170h3v5h-3zM501 175h3v4h-3zM501 181h3v1h-3zM501 185h3v2h-3zM501 193h3v3h-3zM501 198h3v2h-3zM501 200h3v3h-3zM501 204h3v2h-3zM501 218h3v3h-3zM501 243h3v2h-3zM507 172h3v1h-3zM507 178h3v1h-3zM507 190h3v6h-3zM507 197h3v3h-3zM507 200h3v1h-3zM507 218h3v3h-3zM507 224h3v1h-3zM507 225h3v2h-3zM507 242h3v6h-3zM513 193h3v3h-3zM513 200h3v3h-3zM513 215h3v3h-3zM513 267h3v3h-3zM520 179h3v1h-3zM520 188h3v4h-3zM520 193h3v1h-3zM520 198h3v1h-3zM520 205h3v1h-3zM520 217h3v4h-3zM520 224h3v1h-3zM520 225h3v2h-3zM520 231h3v1h-3zM520 242h3v1h-3zM520 245h3v1h-3zM520 263h3v1h-3zM520 286h3v1h-3zM520 296h3v4h-3zM520 301h3v2h-3zM526 188h3v3h-3zM526 194h3v1h-3zM526 198h3v2h-3zM526 201h3v3h-3zM526 207h3v1h-3zM526 218h3v3h-3zM526 224h3v1h-3zM526 225h3v2h-3zM526 242h3v1h-3zM526 246h3v2h-3zM526 266h3v1h-3zM526 285h3v1h-3zM526 288h3v1h-3zM526 319h3v1h-3zM532 219h3v1h-3zM532 221h3v3h-3zM532 240h3v3h-3zM532 244h3v4h-3zM532 263h3v1h-3zM532 288h3v2h-3zM538 244h3v1h-3zM538 246h3v1h-3zM538 261h3v2h-3zM538 294h3v3h-3zM538 298h3v2h-3zM544 218h3v1h-3zM544 240h3v3h-3zM544 287h3v1h-3zM544 294h3v2h-3zM550 268h3v1h-3zM556 243h3v2h-3zM563 255h3v1h-3zM569 244h3v1h-3zM569 297h3v2h-3zM575 262h3v1h-3zM575 264h3v3h-3zM575 268h3v1h-3zM575 286h3v2h-3zM575 299h3v1h-3zM575 301h3v1h-3zM581 298h3v2h-3zM587 268h3v1h-3zM587 287h3v1h-3zM587 289h3v1h-3zM587 295h3v1h-3zM587 299h3v1h-3zM593 243h3v1h-3zM593 260h3v3h-3zM593 283h3v1h-3zM593 295h3v4h-3zM599 267h3v1h-3zM599 284h3v1h-3zM599 299h3v1h-3zM599 309h3v2h-3zM599 314h3v1h-3zM606 287h3v1h-3zM606 292h3v4h-3zM612 245h3v1h-3zM612 267h3v1h-3zM612 292h3v3h-3zM612 310h3v1h-3zM618 299h3v1h-3zM618 314h3v1h-3zM630 267h3v1h-3zM630 302h3v1h-3zM630 310h3v1h-3zM630 314h3v2h-3zM636 255h3v1h-3zM636 287h3v1h-3zM636 296h3v1h-3zM636 308h3v7h-3zM642 292h3v3h-3zM642 317h3v1h-3zM649 285h3v1h-3zM649 287h3v1h-3zM649 295h3v1h-3zM649 297h3v1h-3zM649 323h3v1h-3zM655 247h3v1h-3zM655 260h3v1h-3zM655 262h3v2h-3zM655 280h3v2h-3zM655 283h3v2h-3zM655 294h3v2h-3zM655 297h3v1h-3zM655 299h3v1h-3zM655 304h3v3h-3zM655 310h3v1h-3zM655 312h3v3h-3zM655 316h3v2h-3zM661 279h3v3h-3zM661 286h3v1h-3z"/></g><g fill="#000"><rect x="78" y="57" width="591" height="1"/><rect x="78" y="335" width="591" height="1"/><rect x="78" y="57" width="1" height="279"/><rect x="668" y="57" width="1" height="279"/><rect x="78" y="336" width="1" height="4"/><rect x="78" y="53" width="1" height="4"/><rect x="103" y="336" width="1" height="2"/><rect x="103" y="55" width="1" height="2"/><rect x="127" y="336" width="1" height="4"/><rect x="127" y="53" width="1" height="4"/><rect x="152" y="336" width="1" height="2"/><rect x="152" y="55" width="1" height="2"/><rect x="176" y="336" width="1" height="4"/><rect x="176" y="53" width="1" height="4"/><rect x="201" y="336" width="1" height="2"/><rect x="201" y="55" width="1" height="2"/><rect x="226" y="336" width="1" height="4"/><rect x="226" y="53" width="1" height="4"/><rect x="250" y="336" width="1" height="2"/><rect x="250" y="55" width="1" height="2"/><rect x="275" y="336" width="1" height="4"/><rect x="275" y="53" width="1" height="4"/><rect x="299" y="336" width="1" height="2"/><rect x="299" y="55" width="1" height="2"/><rect x="324" y="336" width="1" height="4"/><rect x="324" y="53" width="1" height="4"/><rect x="348" y="336" width="1" height="2"/><rect x="348" y="55" width="1" height="2"/><rect x="373" y="336" width="1" height="4"/><rect x="373" y="53" width="1" height="4"/><rect x="398" y="336" width="1" height="2"/><rect x="398" y="55" width="1" height="2"/><rect x="422" y="336" width="1" height="4"/><rect x="422" y="53" width="1" height="4"/><rect x="447" y="336" width="1" height="2"/><rect x="447" y="55" width="1" height="2"/><rect x="471" y="336" width="1" height="4"/><rect x="471" y="53" width="1" height="4"/><rect x="496" y="336" width="1" height="2"/><rect x="496" y="55" width="1" height="2"/><rect x="520" y="336" width="1" height="4"/><rect x="520" y="53" width="1" height="4"/><rect x="545" y="336" width="1" height="2"/><rect x="545" y="55" width="1" height="2"/><rect x="570" y="336" width="1" height="4"/><rect x="570" y="53" width="1" height="4"/><rect x="594" y="336" width="1" height="2"/><rect x="594" y="55" width="1" height="2"/><rect x="619" y="336" width="1" height="4"/><rect x="619" y="53" width="1" height="4"/><rect x="643" y="336" width="1" height="2"/><rect x="643" y="55" width="1" height="2"/><rect x="668" y="336" width="1" height="4"/><rect x="668" y="53" width="1" height="4"/><rect x="74" y="335" width="4" height="1"/><rect x="669" y="335" width="4" height="1"/><rect x="74" y="315" width="4" height="1"/><rect x="669" y="315" width="4" height="1"/><rect x="74" y="295" width="4" height="1"/><rect x="669" y="295" width="4" height="1"/><rect x="74" y="275" width="4" height="1"/><rect x="669" y="275" width="4" height="1"/><rect x="74" y="256" width="4" height="1"/><rect x="669" y="256" width="4" height="1"/><rect x="74" y="236" width="4" height="1"/><rect x="669" y="236" width="4" height="1"/><rect x="74" y="216" width="4" height="1"/><rect x="669" y="216" width="4" height="1"/><rect x="74" y="196" width="4" height="1"/><rect x="669" y="196" width="4" height="1"/><rect x="74" y="176" width="4" height="1"/><rect x="669" y="176" width="4" height="1"/><rect x="74" y="156" width="4" height="1"/><rect x="669" y="156" width="4" height="1"/><rect x="74" y="136" width="4" height="1"/><rect x="669" y="136" width="4" height="1"/><rect x="74" y="117" width="4" height="1"/><rect x="669" y="117" width="4" height="1"/><rect x="74" y="97" width="4" height="1"/><rect x="669" y="97" width="4" height="1"/><rect x="74" y="77" width="4" height="1"/><rect x="669" y="77" width="4" height="1"/><rect x="74" y="57" width="4" height="1"/><rect x="669" y="57" width="4" height="1"/></g><rect x="687" y="57" width="29" height="56" fill="#ff0000"/><rect x="687" y="113" width="29" height="55" fill="#ffb462"/><rect x="687" y="168" width="29" height="56" fill="#80ffb4"/><rect x="687" y="224" width="29" height="55" fill="#00b4ec"/><rect x="687" y="279" width="29" height="56" fill="#8000ff"/><rect x="687.5" y="57.5" width="29" height="278" fill="none" stroke="#000" stroke-width="1"/><g shape-rendering="auto"><text x="370.4" y="33" text-anchor="middle">2025-03-24</text><text x="61.5" y="340.0" text-anchor="end">1</text><text x="61.5" y="320.1" text-anchor="end">2</text><text x="61.5" y="300.3" text-anchor="end">3</text><text x="61.5" y="280.4" text-anchor="end">4</text><text x="61.5" y="260.6" text-anchor="end">5</text><text x="61.5" y="240.7" text-anchor="end">6</text><text x="61.5" y="220.9" text-anchor="end">7</text><text x="61.5" y="201.0" text-anchor="end">8</text><text x="61.5" y="181.1" text-anchor="end">9</text><text x="61.5" y="161.3" text-anchor="end">10</text><text x="61.5" y="141.4" text-anchor="end">11</text><text x="61.5" y="121.6" text-anchor="end">12</text><text x="61.5" y="101.7" text-anchor="end">13</text><text x="61.5" y="81.9" text-anchor="end">14</text><text x="61.5" y="62.0" text-anchor="end">15</text><text x="76.5" y="363" text-anchor="middle">00</text><text x="125.7" y="363" text-anchor="middle">02</text><text x="174.8" y="363" text-anchor="middle">04</text><text x="224.0" y="363" text-anchor="middle">06</text><text x="273.2" y="363" text-anchor="middle">08</text><text x="322.3" y="363" text-anchor="middle">10</text><text x="371.5" y="363" text-anchor="middle">12</text><text x="420.7" y="363" text-anchor="middle">14</text><text x="469.8" y="363" text-anchor="middle">16</text><text x="519.0" y="363" text-anchor="middle">18</text><text x="568.2" y="363" text-anchor="middle">20</text><text x="617.3" y="363" text-anchor="middle">22</text><text x="666.5" y="363" text-anchor="middle">00</text><text x="729.5" y="61.0">21</text><text x="729.5" y="116.6">18</text><text x="729.5" y="172.2">15</text><text x="729.5" y="227.8">12</text><text x="729.5" y="283.4">9</text><text x="729.5" y="339.0">6</text><text x="371.9" y="391" text-anchor="middle" textLength="97.4" lengthAdjust="spacing">UT Time / hrs</text><text transform="translate(19,197) rotate(-90)" text-anchor="middle" textLength="124.3" lengthAdjust="spacing">Frequency / MHz</text><text transform="translate(765,196) rotate(-90)" text-anchor="middle" textLength="224" lengthAdjust="spacing">Signal to Noise Ratio SNR / dB</text></g></svg></body></html>
